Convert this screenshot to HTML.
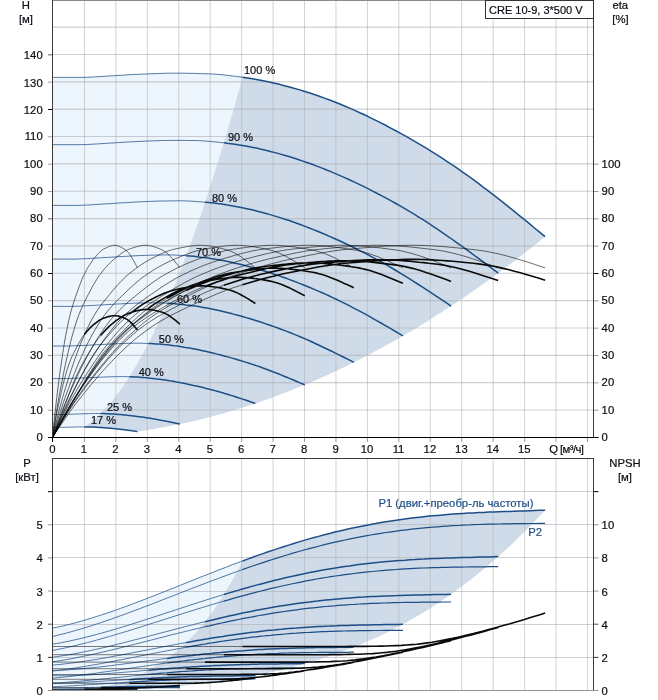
<!DOCTYPE html>
<html><head><meta charset="utf-8"><title>CRE 10-9</title>
<style>html,body{margin:0;padding:0;background:#fff}svg{display:block}</style></head>
<body>
<svg width="658" height="700" viewBox="0 0 658 700" font-family="Liberation Sans, Arial, sans-serif">
<rect width="658" height="700" fill="#fff"/>
<polygon fill="#edf5fd" points="52.5,77.4 55.7,77.4 58.9,77.4 62.1,77.4 65.3,77.4 68.5,77.4 71.7,77.4 74.9,77.4 78.1,77.4 81.3,77.4 84.5,77.4 87.7,77.3 90.9,77.1 94.1,77.0 97.3,76.8 100.5,76.6 103.7,76.4 106.9,76.1 110.1,75.9 113.3,75.7 116.5,75.5 119.7,75.4 122.9,75.2 126.1,75.0 129.3,74.8 132.5,74.6 135.7,74.4 138.9,74.2 142.1,74.1 145.3,74.0 148.5,73.8 151.7,73.7 154.9,73.6 158.1,73.5 161.3,73.4 164.5,73.4 167.7,73.3 170.9,73.2 174.0,73.2 177.2,73.2 180.4,73.2 183.6,73.2 186.8,73.3 190.0,73.3 193.2,73.4 196.4,73.5 199.6,73.6 202.8,73.6 206.0,73.8 209.2,73.9 212.4,74.0 215.6,74.2 218.8,74.4 222.0,74.7 225.2,75.1 228.4,75.4 231.6,75.8 234.8,76.2 238.0,76.6 241.2,77.1 242.5,77.2 240.7,83.7 238.9,90.2 237.1,96.6 235.4,103.0 233.6,109.2 231.8,115.5 230.0,121.6 228.3,127.8 226.5,133.8 224.7,139.8 222.9,145.7 221.1,151.6 219.4,157.4 217.6,163.1 215.8,168.8 214.0,174.4 212.3,180.0 210.5,185.5 208.7,191.0 206.9,196.4 205.1,201.8 203.4,207.1 201.6,212.4 199.8,217.6 198.0,222.8 196.3,227.9 194.5,233.0 192.7,238.0 190.9,242.9 189.1,247.8 187.4,252.6 185.6,257.4 183.8,262.1 182.0,266.7 180.3,271.3 178.5,275.8 176.7,280.2 174.9,284.6 173.1,288.9 171.4,293.2 169.6,297.4 167.8,301.6 166.0,305.7 164.3,309.7 162.5,313.7 160.7,317.7 158.9,321.5 157.1,325.4 155.4,329.1 153.6,332.8 151.8,336.4 150.0,340.0 148.3,343.5 146.5,346.9 144.7,350.3 142.9,353.6 141.2,356.8 139.4,360.0 137.6,363.1 135.8,366.1 134.0,369.1 132.3,372.1 130.5,374.9 128.7,377.7 126.9,380.5 125.2,383.1 123.4,385.7 121.6,388.3 119.8,390.8 118.0,393.2 116.3,395.6 114.5,397.9 112.7,400.1 110.9,402.3 109.2,404.4 107.4,406.4 105.6,408.4 103.8,410.3 102.0,412.1 100.3,413.9 98.5,415.6 96.7,417.2 94.9,418.8 93.2,420.3 91.4,421.8 89.6,423.1 87.8,424.5 86.0,425.7 84.3,426.9 84.3,426.9 82.6,426.9 80.9,426.9 79.2,426.9 77.6,427.0 75.9,427.0 74.2,427.1 72.6,427.1 70.9,427.2 69.2,427.2 67.5,427.2 65.9,427.3 64.2,427.3 62.5,427.4 60.9,427.4 59.2,427.4 57.5,427.4 55.8,427.4 54.2,427.4 52.5,427.4"/>
<polygon fill="#cfdbe8" points="241.2,77.1 245.1,77.6 248.9,78.2 252.8,78.8 256.6,79.5 260.5,80.3 264.3,81.0 268.1,81.8 272.0,82.7 275.8,83.5 279.7,84.4 283.5,85.4 287.4,86.4 291.2,87.4 295.1,88.5 298.9,89.7 302.8,90.8 306.6,92.0 310.5,93.2 314.3,94.5 318.1,95.8 322.0,97.2 325.8,98.6 329.7,100.0 333.5,101.5 337.4,103.0 341.2,104.6 345.1,106.2 348.9,107.8 352.8,109.5 356.6,111.2 360.4,113.0 364.3,114.8 368.1,116.6 372.0,118.4 375.8,120.3 379.7,122.2 383.5,124.2 387.4,126.2 391.2,128.3 395.1,130.3 398.9,132.4 402.8,134.5 406.6,136.7 410.4,138.9 414.3,141.1 418.1,143.3 422.0,145.6 425.8,148.0 429.7,150.3 433.5,152.7 437.4,155.1 441.2,157.6 445.1,160.1 448.9,162.6 452.8,165.2 456.6,167.8 460.4,170.5 464.3,173.2 468.1,175.9 472.0,178.7 475.8,181.5 479.7,184.4 483.5,187.3 487.4,190.2 491.2,193.2 495.1,196.1 498.9,199.1 502.8,202.2 506.6,205.2 510.4,208.3 514.3,211.4 518.1,214.5 522.0,217.7 525.8,220.8 529.7,223.9 533.5,227.1 537.4,230.3 541.2,233.5 545.1,236.7 545.1,236.7 540.6,240.3 536.1,243.9 531.7,247.5 527.2,251.0 522.8,254.5 518.3,257.9 513.8,261.4 509.4,264.7 504.9,268.1 500.5,271.4 496.0,274.7 491.5,278.0 487.1,281.2 482.6,284.4 478.2,287.5 473.7,290.7 469.3,293.7 464.8,296.8 460.3,299.8 455.8,302.9 451.4,305.8 446.8,308.8 442.3,311.7 437.8,314.6 433.2,317.5 428.7,320.4 424.1,323.2 419.6,326.0 415.0,328.7 410.4,331.5 405.9,334.1 401.3,336.8 396.8,339.4 392.2,342.0 387.6,344.5 383.1,347.1 378.5,349.5 374.0,352.0 369.4,354.4 364.8,356.8 360.2,359.1 355.6,361.4 351.0,363.7 346.4,366.0 341.8,368.2 337.2,370.4 332.6,372.6 327.9,374.7 323.3,376.8 318.7,378.9 314.0,380.9 309.4,382.9 304.7,384.8 300.1,386.8 295.5,388.6 290.8,390.5 286.2,392.3 281.6,394.1 276.9,395.8 272.3,397.5 267.6,399.2 263.0,400.8 258.4,402.4 253.7,404.0 249.0,405.5 244.4,407.0 239.7,408.5 235.0,409.9 230.4,411.3 225.7,412.7 221.0,414.0 216.4,415.3 211.7,416.5 207.0,417.7 202.3,418.9 197.7,420.1 193.0,421.2 188.3,422.2 183.7,423.3 179.1,424.2 174.4,425.2 169.8,426.1 165.1,427.0 160.5,427.8 155.9,428.7 151.3,429.4 146.7,430.2 142.0,430.9 137.4,431.5 137.4,431.5 134.6,431.1 131.8,430.7 129.0,430.4 126.2,430.0 123.4,429.6 120.6,429.3 117.8,429.0 115.0,428.7 112.2,428.4 109.4,428.2 106.6,427.9 103.8,427.7 101.1,427.5 98.3,427.3 95.5,427.2 92.7,427.1 89.9,427.0 87.1,426.9 84.3,426.9 84.3,426.9 86.0,425.7 87.8,424.5 89.6,423.1 91.4,421.8 93.2,420.3 94.9,418.8 96.7,417.2 98.5,415.6 100.3,413.9 102.0,412.1 103.8,410.3 105.6,408.4 107.4,406.4 109.2,404.4 110.9,402.3 112.7,400.1 114.5,397.9 116.3,395.6 118.0,393.2 119.8,390.8 121.6,388.3 123.4,385.7 125.2,383.1 126.9,380.5 128.7,377.7 130.5,374.9 132.3,372.1 134.0,369.1 135.8,366.1 137.6,363.1 139.4,360.0 141.2,356.8 142.9,353.6 144.7,350.3 146.5,346.9 148.3,343.5 150.0,340.0 151.8,336.4 153.6,332.8 155.4,329.1 157.1,325.4 158.9,321.5 160.7,317.7 162.5,313.7 164.3,309.7 166.0,305.7 167.8,301.6 169.6,297.4 171.4,293.2 173.1,288.9 174.9,284.6 176.7,280.2 178.5,275.8 180.3,271.3 182.0,266.7 183.8,262.1 185.6,257.4 187.4,252.6 189.1,247.8 190.9,242.9 192.7,238.0 194.5,233.0 196.3,227.9 198.0,222.8 199.8,217.6 201.6,212.4 203.4,207.1 205.1,201.8 206.9,196.4 208.7,191.0 210.5,185.5 212.3,180.0 214.0,174.4 215.8,168.8 217.6,163.1 219.4,157.4 221.1,151.6 222.9,145.7 224.7,139.8 226.5,133.8 228.3,127.8 230.0,121.6 231.8,115.5 233.6,109.2 235.4,103.0 237.1,96.6 238.9,90.2 240.7,83.7 242.5,77.2"/>
<polygon fill="#edf5fd" points="52.5,628.1 55.7,627.5 58.9,626.8 62.1,626.1 65.3,625.3 68.5,624.6 71.7,623.7 74.9,622.9 78.1,622.0 81.3,621.1 84.5,620.2 87.7,619.3 90.9,618.3 94.1,617.3 97.3,616.3 100.5,615.3 103.7,614.2 106.9,613.2 110.1,612.1 113.3,611.0 116.5,609.8 119.7,608.7 122.9,607.5 126.1,606.4 129.3,605.2 132.5,604.0 135.7,602.8 138.9,601.6 142.1,600.4 145.3,599.1 148.5,597.9 151.7,596.6 154.9,595.4 158.1,594.1 161.3,592.9 164.5,591.6 167.7,590.3 170.9,589.0 174.0,587.8 177.2,586.5 180.4,585.2 183.6,583.9 186.8,582.6 190.0,581.4 193.2,580.1 196.4,578.8 199.6,577.5 202.8,576.3 206.0,575.0 209.2,573.7 212.4,572.5 215.6,571.2 218.8,570.0 222.0,568.7 225.2,567.5 228.4,566.3 231.6,565.1 234.8,563.8 238.0,562.6 241.2,561.5 242.5,561.0 240.7,564.5 238.9,567.9 237.1,571.3 235.4,574.6 233.6,577.8 231.8,581.0 230.0,584.1 228.3,587.1 226.5,590.1 224.7,593.1 222.9,595.9 221.1,598.7 219.4,601.5 217.6,604.2 215.8,606.8 214.0,609.4 212.3,611.9 210.5,614.4 208.7,616.8 206.9,619.2 205.1,621.5 203.4,623.8 201.6,626.0 199.8,628.1 198.0,630.1 196.3,632.1 194.5,634.1 192.7,636.0 190.9,637.8 189.1,639.6 187.4,641.4 185.6,643.1 183.8,644.8 182.0,646.4 180.3,648.0 178.5,649.5 176.7,651.0 174.9,652.4 173.1,653.8 171.4,655.2 169.6,656.5 167.8,657.9 166.0,659.2 164.3,660.4 162.5,661.6 160.7,662.7 158.9,663.9 157.1,665.0 155.4,666.1 153.6,667.1 151.8,668.2 150.0,669.2 148.3,670.2 146.5,671.2 144.7,672.2 142.9,673.2 141.2,674.1 139.4,675.0 137.6,675.9 135.8,676.7 134.0,677.5 132.3,678.3 130.5,679.0 128.7,679.7 126.9,680.4 125.2,681.0 123.4,681.6 121.6,682.1 119.8,682.7 118.0,683.2 116.3,683.6 114.5,684.1 112.7,684.6 110.9,685.0 109.2,685.4 107.4,685.8 105.6,686.2 103.8,686.6 102.0,686.9 100.3,687.3 98.5,687.6 96.7,687.9 94.9,688.2 93.2,688.5 91.4,688.7 89.6,689.0 87.8,689.2 86.0,689.4 84.3,689.5 84.3,689.5 82.6,689.6 80.9,689.6 79.2,689.6 77.6,689.7 75.9,689.7 74.2,689.7 72.6,689.7 70.9,689.8 69.2,689.8 67.5,689.8 65.9,689.9 64.2,689.9 62.5,689.9 60.9,689.9 59.2,690.0 57.5,690.0 55.8,690.0 54.2,690.0 52.5,690.0"/>
<polygon fill="#cfdbe8" points="241.2,561.5 245.1,560.0 248.9,558.6 252.8,557.2 256.6,555.9 260.5,554.5 264.3,553.2 268.1,551.8 272.0,550.5 275.8,549.2 279.7,548.0 283.5,546.7 287.4,545.5 291.2,544.3 295.1,543.1 298.9,541.9 302.8,540.8 306.6,539.7 310.5,538.6 314.3,537.5 318.1,536.4 322.0,535.4 325.8,534.4 329.7,533.4 333.5,532.5 337.4,531.5 341.2,530.6 345.1,529.7 348.9,528.9 352.8,528.0 356.6,527.2 360.4,526.4 364.3,525.6 368.1,524.9 372.0,524.2 375.8,523.5 379.7,522.8 383.5,522.2 387.4,521.5 391.2,520.9 395.1,520.3 398.9,519.8 402.8,519.2 406.6,518.7 410.4,518.2 414.3,517.8 418.1,517.3 422.0,516.9 425.8,516.5 429.7,516.1 433.5,515.7 437.4,515.4 441.2,515.0 445.1,514.7 448.9,514.4 452.8,514.1 456.6,513.9 460.4,513.6 464.3,513.4 468.1,513.1 472.0,512.9 475.8,512.7 479.7,512.5 483.5,512.4 487.4,512.2 491.2,512.0 495.1,511.9 498.9,511.7 502.8,511.6 506.6,511.5 510.4,511.3 514.3,511.2 518.1,511.1 522.0,510.9 525.8,510.8 529.7,510.7 533.5,510.6 537.4,510.4 541.2,510.3 545.1,510.2 545.1,510.2 540.6,515.0 536.1,519.7 531.7,524.4 527.2,529.0 522.8,533.5 518.3,537.8 513.8,542.2 509.4,546.4 504.9,550.5 500.5,554.6 496.0,558.6 491.5,562.5 487.1,566.3 482.6,570.0 478.2,573.6 473.7,577.2 469.3,580.7 464.8,584.1 460.3,587.5 455.8,590.8 451.4,594.0 446.8,597.2 442.3,600.3 437.8,603.3 433.2,606.3 428.7,609.2 424.1,612.0 419.6,614.8 415.0,617.5 410.4,620.1 405.9,622.7 401.3,625.1 396.8,627.6 392.2,629.9 387.6,632.2 383.1,634.4 378.5,636.5 374.0,638.6 369.4,640.6 364.8,642.6 360.2,644.5 355.6,646.4 351.0,648.2 346.4,650.0 341.8,651.7 337.2,653.3 332.6,654.9 327.9,656.5 323.3,658.0 318.7,659.4 314.0,660.9 309.4,662.3 304.7,663.6 300.1,664.9 295.5,666.2 290.8,667.5 286.2,668.7 281.6,669.9 276.9,671.0 272.3,672.1 267.6,673.1 263.0,674.2 258.4,675.1 253.7,676.0 249.0,676.9 244.4,677.8 239.7,678.5 235.0,679.3 230.4,680.0 225.7,680.7 221.0,681.4 216.4,682.0 211.7,682.6 207.0,683.2 202.3,683.8 197.7,684.3 193.0,684.8 188.3,685.3 183.7,685.8 179.1,686.3 174.4,686.7 169.8,687.1 165.1,687.4 160.5,687.8 155.9,688.1 151.3,688.4 146.7,688.7 142.0,688.9 137.4,689.1 137.4,689.1 134.6,689.2 131.8,689.2 129.0,689.2 126.2,689.2 123.4,689.2 120.6,689.2 117.8,689.2 115.0,689.2 112.2,689.2 109.4,689.2 106.6,689.3 103.8,689.3 101.1,689.3 98.3,689.3 95.5,689.4 92.7,689.4 89.9,689.5 87.1,689.5 84.3,689.5 84.3,689.5 86.0,689.4 87.8,689.2 89.6,689.0 91.4,688.7 93.2,688.5 94.9,688.2 96.7,687.9 98.5,687.6 100.3,687.3 102.0,686.9 103.8,686.6 105.6,686.2 107.4,685.8 109.2,685.4 110.9,685.0 112.7,684.6 114.5,684.1 116.3,683.6 118.0,683.2 119.8,682.7 121.6,682.1 123.4,681.6 125.2,681.0 126.9,680.4 128.7,679.7 130.5,679.0 132.3,678.3 134.0,677.5 135.8,676.7 137.6,675.9 139.4,675.0 141.2,674.1 142.9,673.2 144.7,672.2 146.5,671.2 148.3,670.2 150.0,669.2 151.8,668.2 153.6,667.1 155.4,666.1 157.1,665.0 158.9,663.9 160.7,662.7 162.5,661.6 164.3,660.4 166.0,659.2 167.8,657.9 169.6,656.5 171.4,655.2 173.1,653.8 174.9,652.4 176.7,651.0 178.5,649.5 180.3,648.0 182.0,646.4 183.8,644.8 185.6,643.1 187.4,641.4 189.1,639.6 190.9,637.8 192.7,636.0 194.5,634.1 196.3,632.1 198.0,630.1 199.8,628.1 201.6,626.0 203.4,623.8 205.1,621.5 206.9,619.2 208.7,616.8 210.5,614.4 212.3,611.9 214.0,609.4 215.8,606.8 217.6,604.2 219.4,601.5 221.1,598.7 222.9,595.9 224.7,593.1 226.5,590.1 228.3,587.1 230.0,584.1 231.8,581.0 233.6,577.8 235.4,574.6 237.1,571.3 238.9,567.9 240.7,564.5 242.5,561.0"/>
<path d="M48,437.50H52.5" stroke="#000" fill="none"/>
<path d="M48,410.17H52.5" stroke="#a0a0a0" fill="none"/>
<path d="M48,382.83H52.5" stroke="#a0a0a0" fill="none"/>
<path d="M48,355.50H52.5" stroke="#a0a0a0" fill="none"/>
<path d="M48,328.17H52.5" stroke="#a0a0a0" fill="none"/>
<path d="M48,300.83H52.5" stroke="#a0a0a0" fill="none"/>
<path d="M48,273.50H52.5" stroke="#000" fill="none"/>
<path d="M48,246.17H52.5" stroke="#a0a0a0" fill="none"/>
<path d="M48,218.83H52.5" stroke="#666" fill="none"/>
<path d="M48,191.50H52.5" stroke="#a0a0a0" fill="none"/>
<path d="M48,164.17H52.5" stroke="#a0a0a0" fill="none"/>
<path d="M48,136.83H52.5" stroke="#a0a0a0" fill="none"/>
<path d="M48,109.50H52.5" stroke="#000" fill="none"/>
<path d="M48,82.17H52.5" stroke="#a0a0a0" fill="none"/>
<path d="M48,54.83H52.5" stroke="#666" fill="none"/>
<path d="M593.5,437.50H598.5" stroke="#000" fill="none"/>
<path d="M593.5,410.17H598.5" stroke="#9a9a9a" fill="none"/>
<path d="M593.5,382.83H598.5" stroke="#9a9a9a" fill="none"/>
<path d="M593.5,355.50H598.5" stroke="#9a9a9a" fill="none"/>
<path d="M593.5,328.17H598.5" stroke="#9a9a9a" fill="none"/>
<path d="M593.5,300.83H598.5" stroke="#9a9a9a" fill="none"/>
<path d="M593.5,273.50H598.5" stroke="#000" fill="none"/>
<path d="M593.5,246.17H598.5" stroke="#9a9a9a" fill="none"/>
<path d="M593.5,218.83H598.5" stroke="#9a9a9a" fill="none"/>
<path d="M593.5,191.50H598.5" stroke="#9a9a9a" fill="none"/>
<path d="M593.5,164.17H598.5" stroke="#9a9a9a" fill="none"/>
<path d="M52.50,437.5V442" stroke="#000" fill="none"/>
<path d="M84.44,438V442 M115.88,438V442 M147.32,438V442 M178.76,438V442 M210.20,438V442 M241.64,438V442 M273.08,438V442 M304.52,438V442 M335.96,438V442 M367.40,438V442 M398.84,438V442 M430.28,438V442 M461.72,438V442 M493.16,438V442 M524.60,438V442 M556.04,438V442 M587.48,438V442" stroke="#999" fill="none"/>
<path d="M48,690.50H52.5" stroke="#929292" fill="none"/>
<path d="M593.5,690.50H598.5" stroke="#929292" fill="none"/>
<path d="M48,657.36H52.5" stroke="#333" fill="none"/>
<path d="M593.5,657.36H598.5" stroke="#333" fill="none"/>
<path d="M48,624.21H52.5" stroke="#555" fill="none"/>
<path d="M593.5,624.21H598.5" stroke="#555" fill="none"/>
<path d="M48,591.07H52.5" stroke="#999" fill="none"/>
<path d="M593.5,591.07H598.5" stroke="#999" fill="none"/>
<path d="M48,557.93H52.5" stroke="#999" fill="none"/>
<path d="M593.5,557.93H598.5" stroke="#999" fill="none"/>
<path d="M48,524.79H52.5" stroke="#999" fill="none"/>
<path d="M593.5,524.79H598.5" stroke="#999" fill="none"/>
<path d="M48,491.64H52.5" stroke="#000" fill="none"/>
<path d="M593.5,491.64H598.5" stroke="#000" fill="none"/>
<path d="M84.44,1V437 M84.44,459V690 M115.88,1V437 M115.88,459V690 M147.32,1V437 M147.32,459V690 M178.76,1V437 M178.76,459V690 M210.2,1V437 M210.2,459V690 M241.64,1V437 M241.64,459V690 M273.08,1V437 M273.08,459V690 M304.52,1V437 M304.52,459V690 M335.96,1V437 M335.96,459V690 M367.4,1V437 M367.4,459V690 M398.84,1V437 M398.84,459V690 M430.28,1V437 M430.28,459V690 M461.72,1V437 M461.72,459V690 M493.16,1V437 M493.16,459V690 M524.6,1V437 M524.6,459V690 M556.04,1V437 M556.04,459V690 M587.48,1V437 M587.48,459V690" stroke="#b0b4b8" stroke-opacity="0.6" stroke-width="1" fill="none"/>
<path d="M53,410.0H593.0 M53,382.65H593.0 M53,355.3H593.0 M53,327.95H593.0 M53,300.6H593.0 M53,273.25H593.0 M53,245.9H593.0 M53,218.55H593.0 M53,191.2H593.0 M53,163.85H593.0 M53,136.5H593.0 M53,109.15H593.0 M53,81.8H593.0 M53,54.45H593.0 M53,27.1H593.0 M53,657.5H593.0 M53,624.5H593.0 M53,591.5H593.0 M53,557.5H593.0 M53,524.5H593.0 M53,491.5H593.0" stroke="#aeb2b6" stroke-opacity="0.62" stroke-width="1.15" fill="none"/>
<path d="M52.5,77.4 L57.4,77.4 L62.2,77.4 L67.1,77.4 L72.0,77.4 L76.9,77.4 L81.7,77.4 L86.6,77.3 L91.5,77.1 L96.3,76.8 L101.2,76.5 L106.1,76.2 L111.0,75.9 L115.8,75.6 L120.7,75.3 L125.6,75.0 L130.4,74.7 L135.3,74.4 L140.2,74.2 L145.1,74.0 L149.9,73.8 L154.8,73.6 L159.7,73.5 L164.5,73.3 L169.4,73.2 L174.3,73.2 L179.2,73.2 L184.0,73.2 L188.9,73.3 L193.8,73.4 L198.6,73.5 L203.5,73.7 L208.4,73.8 L213.3,74.0 L218.1,74.4 L223.0,74.8 L227.9,75.4 L232.7,76.0 L237.6,76.6 L242.5,77.2 M52.5,144.7 L56.9,144.7 L61.3,144.7 L65.7,144.7 L70.1,144.7 L74.5,144.7 L78.9,144.7 L83.2,144.6 L87.6,144.5 L92.0,144.2 L96.4,144.0 L100.8,143.7 L105.2,143.4 L109.6,143.1 L114.0,142.9 L118.4,142.6 L122.8,142.3 L127.2,142.0 L131.6,141.8 L136.0,141.6 L140.3,141.4 L144.7,141.2 L149.1,141.0 L153.5,140.8 L157.9,140.7 L162.3,140.5 L166.7,140.5 L171.1,140.4 L175.5,140.4 L179.9,140.4 L184.3,140.4 L188.7,140.5 L193.1,140.5 L197.4,140.6 L201.8,140.8 L206.2,141.1 L210.6,141.5 L215.0,141.9 L219.4,142.3 L223.8,142.8 M52.5,205.4 L56.4,205.4 L60.3,205.4 L64.2,205.4 L68.1,205.4 L72.1,205.4 L76.0,205.4 L79.9,205.3 L83.8,205.2 L87.7,205.0 L91.6,204.8 L95.5,204.5 L99.4,204.3 L103.3,204.0 L107.2,203.8 L111.2,203.6 L115.1,203.3 L119.0,203.0 L122.9,202.8 L126.8,202.6 L130.7,202.4 L134.6,202.1 L138.5,201.9 L142.4,201.7 L146.4,201.5 L150.3,201.4 L154.2,201.2 L158.1,201.1 L162.0,201.0 L165.9,201.0 L169.8,200.9 L173.7,200.9 L177.6,200.8 L181.6,200.8 L185.5,200.9 L189.4,201.1 L193.3,201.3 L197.2,201.6 L201.1,201.9 L205.0,202.2 M52.5,259.1 L55.9,259.1 L59.4,259.1 L62.8,259.1 L66.2,259.1 L69.6,259.1 L73.1,259.1 L76.5,259.1 L79.9,258.9 L83.4,258.8 L86.8,258.6 L90.2,258.4 L93.6,258.2 L97.1,258.0 L100.5,257.8 L103.9,257.6 L107.4,257.4 L110.8,257.2 L114.2,257.0 L117.6,256.7 L121.1,256.6 L124.5,256.4 L127.9,256.2 L131.4,256.0 L134.8,255.8 L138.2,255.6 L141.6,255.5 L145.1,255.4 L148.5,255.3 L151.9,255.2 L155.4,255.1 L158.8,255.0 L162.2,255.0 L165.6,254.9 L169.1,254.9 L172.5,255.0 L175.9,255.1 L179.4,255.3 L182.8,255.5 L186.2,255.7 M52.5,306.4 L55.4,306.4 L58.4,306.4 L61.3,306.4 L64.3,306.4 L67.2,306.4 L70.1,306.4 L73.1,306.4 L76.0,306.3 L78.9,306.2 L81.9,306.0 L84.8,305.9 L87.8,305.7 L90.7,305.6 L93.6,305.4 L96.6,305.2 L99.5,305.1 L102.5,304.9 L105.4,304.7 L108.3,304.5 L111.3,304.4 L114.2,304.2 L117.2,304.0 L120.1,303.9 L123.0,303.7 L126.0,303.6 L128.9,303.4 L131.8,303.3 L134.8,303.2 L137.7,303.1 L140.7,303.0 L143.6,302.9 L146.5,302.8 L149.5,302.8 L152.4,302.8 L155.4,302.8 L158.3,302.9 L161.2,303.0 L164.2,303.1 L167.1,303.2 M52.5,346.0 L55.0,346.0 L57.4,346.0 L59.9,346.0 L62.3,346.0 L64.8,346.0 L67.2,346.0 L69.7,345.9 L72.1,345.9 L74.6,345.8 L77.1,345.7 L79.5,345.6 L82.0,345.5 L84.4,345.4 L86.9,345.3 L89.3,345.1 L91.8,345.0 L94.2,344.9 L96.7,344.7 L99.2,344.6 L101.6,344.5 L104.1,344.4 L106.5,344.2 L109.0,344.1 L111.4,344.0 L113.9,343.9 L116.3,343.8 L118.8,343.7 L121.3,343.6 L123.7,343.5 L126.2,343.4 L128.6,343.3 L131.1,343.3 L133.5,343.2 L136.0,343.2 L138.4,343.2 L140.9,343.2 L143.4,343.3 L145.8,343.4 L148.3,343.5 M52.5,378.6 L54.5,378.6 L56.4,378.6 L58.4,378.6 L60.4,378.6 L62.4,378.6 L64.3,378.6 L66.3,378.5 L68.3,378.5 L70.2,378.5 L72.2,378.4 L74.2,378.3 L76.1,378.2 L78.1,378.2 L80.1,378.1 L82.1,378.0 L84.0,377.9 L86.0,377.8 L88.0,377.7 L89.9,377.6 L91.9,377.6 L93.9,377.5 L95.8,377.4 L97.8,377.3 L99.8,377.2 L101.8,377.1 L103.7,377.0 L105.7,377.0 L107.7,376.9 L109.6,376.8 L111.6,376.8 L113.6,376.7 L115.6,376.7 L117.5,376.6 L119.5,376.6 L121.5,376.6 L123.4,376.6 L125.4,376.6 L127.4,376.7 L129.3,376.7 M52.5,414.4 L53.7,414.4 L55.0,414.4 L56.2,414.4 L57.4,414.4 L58.7,414.4 L59.9,414.4 L61.1,414.4 L62.4,414.4 L63.6,414.4 L64.8,414.4 L66.1,414.3 L67.3,414.3 L68.5,414.3 L69.8,414.2 L71.0,414.2 L72.2,414.2 L73.5,414.1 L74.7,414.1 L75.9,414.0 L77.2,414.0 L78.4,414.0 L79.6,413.9 L80.9,413.9 L82.1,413.8 L83.3,413.8 L84.6,413.8 L85.8,413.7 L87.0,413.7 L88.3,413.7 L89.5,413.6 L90.7,413.6 L92.0,413.6 L93.2,413.6 L94.4,413.5 L95.7,413.5 L96.9,413.5 L98.1,413.5 L99.4,413.5 L100.6,413.6 M52.5,427.4 L53.3,427.4 L54.1,427.4 L54.9,427.4 L55.8,427.4 L56.6,427.4 L57.4,427.4 L58.2,427.4 L59.0,427.4 L59.8,427.4 L60.6,427.4 L61.5,427.4 L62.3,427.4 L63.1,427.3 L63.9,427.3 L64.7,427.3 L65.5,427.3 L66.3,427.3 L67.2,427.3 L68.0,427.2 L68.8,427.2 L69.6,427.2 L70.4,427.2 L71.2,427.1 L72.0,427.1 L72.9,427.1 L73.7,427.1 L74.5,427.0 L75.3,427.0 L76.1,427.0 L76.9,427.0 L77.7,427.0 L78.6,426.9 L79.4,426.9 L80.2,426.9 L81.0,426.9 L81.8,426.9 L82.6,426.9 L83.5,426.9 L84.3,426.9" stroke="#1d4f86" stroke-width="1" fill="none" opacity="0.75"/>
<path d="M242.5,77.2 L247.6,78.0 L252.7,78.8 L257.9,79.8 L263.0,80.8 L268.1,81.8 L273.3,82.9 L278.4,84.1 L283.5,85.4 L288.6,86.7 L293.8,88.2 L298.9,89.6 L304.0,91.2 L309.1,92.8 L314.3,94.5 L319.4,96.3 L324.5,98.1 L329.7,100.0 L334.8,102.0 L339.9,104.0 L345.0,106.2 L350.2,108.4 L355.3,110.6 L360.4,113.0 L365.6,115.3 L370.7,117.8 L375.8,120.3 L380.9,122.9 L386.1,125.5 L391.2,128.3 L396.3,131.0 L401.5,133.8 L406.6,136.7 L411.7,139.6 L416.8,142.6 L422.0,145.6 L427.1,148.7 L432.2,151.9 L437.4,155.1 L442.5,158.4 L447.6,161.8 L452.7,165.2 L457.9,168.7 L463.0,172.3 L468.1,175.9 L473.3,179.6 L478.4,183.4 L483.5,187.3 L488.6,191.2 L493.8,195.1 L498.9,199.1 L504.0,203.2 L509.2,207.3 L514.3,211.4 L519.4,215.6 L524.5,219.7 L529.7,223.9 L534.8,228.2 L539.9,232.4 L545.1,236.7 M223.8,142.8 L228.5,143.4 L233.1,144.0 L237.8,144.7 L242.4,145.5 L247.1,146.3 L251.7,147.2 L256.4,148.1 L261.0,149.2 L265.7,150.3 L270.3,151.4 L275.0,152.6 L279.6,153.9 L284.3,155.2 L288.9,156.5 L293.6,158.0 L298.2,159.5 L302.9,161.1 L307.5,162.7 L312.2,164.3 L316.8,166.1 L321.5,167.9 L326.1,169.7 L330.8,171.6 L335.4,173.6 L340.1,175.6 L344.7,177.6 L349.4,179.8 L354.0,181.9 L358.7,184.2 L363.3,186.4 L368.0,188.7 L372.6,191.1 L377.3,193.5 L381.9,195.9 L386.6,198.4 L391.2,200.9 L395.9,203.5 L400.5,206.2 L405.2,208.9 L409.8,211.6 L414.5,214.4 L419.1,217.3 L423.8,220.2 L428.4,223.2 L433.1,226.3 L437.7,229.4 L442.4,232.6 L447.0,235.8 L451.7,239.0 L456.3,242.3 L461.0,245.6 L465.6,248.9 L470.3,252.3 L474.9,255.8 L479.6,259.2 L484.2,262.6 L488.9,266.1 L493.5,269.6 L498.2,273.1 M205.0,202.2 L209.2,202.6 L213.4,203.0 L217.5,203.6 L221.7,204.1 L225.9,204.8 L230.0,205.5 L234.2,206.2 L238.4,206.9 L242.5,207.8 L246.7,208.7 L250.9,209.6 L255.0,210.6 L259.2,211.7 L263.4,212.8 L267.6,213.9 L271.7,215.1 L275.9,216.4 L280.1,217.6 L284.2,219.0 L288.4,220.3 L292.6,221.8 L296.7,223.3 L300.9,224.8 L305.1,226.4 L309.3,228.0 L313.4,229.6 L317.6,231.3 L321.8,233.0 L325.9,234.8 L330.1,236.6 L334.3,238.5 L338.4,240.3 L342.6,242.3 L346.8,244.2 L350.9,246.2 L355.1,248.2 L359.3,250.3 L363.5,252.4 L367.6,254.6 L371.8,256.8 L376.0,259.1 L380.1,261.4 L384.3,263.7 L388.5,266.1 L392.6,268.5 L396.8,271.0 L401.0,273.6 L405.2,276.1 L409.3,278.7 L413.5,281.3 L417.7,284.0 L421.8,286.7 L426.0,289.4 L430.2,292.2 L434.3,294.9 L438.5,297.7 L442.7,300.4 L446.8,303.2 L451.0,306.1 M186.2,255.7 L189.9,256.0 L193.6,256.3 L197.2,256.7 L200.9,257.2 L204.6,257.6 L208.2,258.1 L211.9,258.7 L215.6,259.3 L219.3,259.9 L222.9,260.6 L226.6,261.3 L230.3,262.1 L234.0,262.9 L237.6,263.7 L241.3,264.6 L245.0,265.5 L248.6,266.5 L252.3,267.5 L256.0,268.5 L259.7,269.6 L263.3,270.7 L267.0,271.8 L270.7,273.0 L274.4,274.2 L278.0,275.4 L281.7,276.7 L285.4,278.0 L289.0,279.4 L292.7,280.7 L296.4,282.1 L300.1,283.6 L303.7,285.0 L307.4,286.5 L311.1,288.0 L314.7,289.6 L318.4,291.1 L322.1,292.7 L325.8,294.4 L329.4,296.0 L333.1,297.8 L336.8,299.5 L340.5,301.3 L344.1,303.1 L347.8,304.9 L351.5,306.8 L355.1,308.8 L358.8,310.7 L362.5,312.7 L366.2,314.7 L369.8,316.7 L373.5,318.8 L377.2,320.9 L380.9,323.0 L384.5,325.1 L388.2,327.2 L391.9,329.4 L395.5,331.5 L399.2,333.7 L402.9,335.9 M167.1,303.2 L170.3,303.4 L173.4,303.6 L176.6,303.9 L179.8,304.2 L182.9,304.5 L186.1,304.9 L189.3,305.2 L192.4,305.7 L195.6,306.1 L198.8,306.6 L201.9,307.2 L205.1,307.7 L208.3,308.3 L211.4,308.9 L214.6,309.6 L217.7,310.3 L220.9,311.0 L224.1,311.7 L227.2,312.4 L230.4,313.2 L233.6,314.1 L236.7,314.9 L239.9,315.8 L243.1,316.7 L246.2,317.6 L249.4,318.5 L252.6,319.5 L255.7,320.5 L258.9,321.5 L262.1,322.5 L265.2,323.6 L268.4,324.7 L271.5,325.8 L274.7,326.9 L277.9,328.0 L281.0,329.2 L284.2,330.4 L287.4,331.6 L290.5,332.8 L293.7,334.1 L296.9,335.4 L300.0,336.7 L303.2,338.0 L306.4,339.4 L309.5,340.8 L312.7,342.3 L315.8,343.7 L319.0,345.2 L322.2,346.7 L325.3,348.2 L328.5,349.7 L331.7,351.2 L334.8,352.8 L338.0,354.4 L341.2,356.0 L344.3,357.5 L347.5,359.1 L350.7,360.7 L353.8,362.4 M148.3,343.5 L150.9,343.6 L153.6,343.7 L156.2,343.9 L158.9,344.1 L161.5,344.3 L164.2,344.6 L166.8,344.8 L169.5,345.1 L172.1,345.4 L174.8,345.8 L177.4,346.1 L180.1,346.5 L182.7,346.9 L185.4,347.4 L188.1,347.8 L190.7,348.3 L193.4,348.8 L196.0,349.3 L198.7,349.8 L201.3,350.4 L204.0,351.0 L206.6,351.6 L209.3,352.2 L211.9,352.8 L214.6,353.4 L217.2,354.1 L219.9,354.8 L222.5,355.5 L225.2,356.2 L227.8,356.9 L230.5,357.6 L233.1,358.4 L235.8,359.2 L238.4,360.0 L241.1,360.8 L243.8,361.6 L246.4,362.4 L249.1,363.3 L251.7,364.1 L254.4,365.0 L257.0,365.9 L259.7,366.8 L262.3,367.8 L265.0,368.7 L267.6,369.7 L270.3,370.7 L272.9,371.8 L275.6,372.8 L278.2,373.8 L280.9,374.9 L283.5,376.0 L286.2,377.0 L288.8,378.1 L291.5,379.2 L294.1,380.3 L296.8,381.5 L299.5,382.6 L302.1,383.7 L304.8,384.8 M129.3,376.7 L131.5,376.8 L133.6,376.9 L135.8,377.0 L137.9,377.1 L140.0,377.2 L142.2,377.4 L144.3,377.6 L146.4,377.7 L148.6,377.9 L150.7,378.2 L152.8,378.4 L155.0,378.7 L157.1,378.9 L159.3,379.2 L161.4,379.5 L163.5,379.8 L165.7,380.1 L167.8,380.4 L169.9,380.8 L172.1,381.1 L174.2,381.5 L176.3,381.9 L178.5,382.3 L180.6,382.7 L182.7,383.1 L184.9,383.5 L187.0,384.0 L189.2,384.4 L191.3,384.9 L193.4,385.4 L195.6,385.8 L197.7,386.3 L199.8,386.8 L202.0,387.3 L204.1,387.8 L206.2,388.4 L208.4,388.9 L210.5,389.5 L212.7,390.0 L214.8,390.6 L216.9,391.2 L219.1,391.8 L221.2,392.4 L223.3,393.0 L225.5,393.7 L227.6,394.3 L229.7,395.0 L231.9,395.6 L234.0,396.3 L236.2,397.0 L238.3,397.7 L240.4,398.4 L242.6,399.1 L244.7,399.8 L246.8,400.5 L249.0,401.2 L251.1,402.0 L253.2,402.7 L255.4,403.4 M100.6,413.6 L101.9,413.6 L103.3,413.6 L104.6,413.6 L106.0,413.7 L107.3,413.7 L108.6,413.8 L110.0,413.9 L111.3,413.9 L112.7,414.0 L114.0,414.1 L115.4,414.2 L116.7,414.3 L118.1,414.4 L119.4,414.5 L120.7,414.6 L122.1,414.7 L123.4,414.9 L124.8,415.0 L126.1,415.1 L127.5,415.3 L128.8,415.4 L130.2,415.6 L131.5,415.7 L132.8,415.9 L134.2,416.0 L135.5,416.2 L136.9,416.4 L138.2,416.6 L139.6,416.7 L140.9,416.9 L142.3,417.1 L143.6,417.3 L144.9,417.5 L146.3,417.7 L147.6,417.9 L149.0,418.1 L150.3,418.3 L151.7,418.6 L153.0,418.8 L154.3,419.0 L155.7,419.2 L157.0,419.5 L158.4,419.7 L159.7,420.0 L161.1,420.2 L162.4,420.5 L163.8,420.7 L165.1,421.0 L166.4,421.3 L167.8,421.5 L169.1,421.8 L170.5,422.1 L171.8,422.4 L173.2,422.6 L174.5,422.9 L175.9,423.2 L177.2,423.5 L178.5,423.8 L179.9,424.1 M84.3,426.9 L85.2,426.9 L86.1,426.9 L87.0,426.9 L87.9,426.9 L88.8,427.0 L89.7,427.0 L90.6,427.0 L91.5,427.0 L92.4,427.1 L93.3,427.1 L94.2,427.1 L95.1,427.2 L96.0,427.2 L96.9,427.3 L97.8,427.3 L98.7,427.4 L99.6,427.4 L100.5,427.5 L101.4,427.5 L102.3,427.6 L103.2,427.7 L104.1,427.7 L105.0,427.8 L105.9,427.9 L106.8,427.9 L107.7,428.0 L108.6,428.1 L109.5,428.2 L110.4,428.3 L111.3,428.3 L112.2,428.4 L113.1,428.5 L114.0,428.6 L114.9,428.7 L115.8,428.8 L116.7,428.9 L117.6,429.0 L118.5,429.1 L119.4,429.2 L120.3,429.3 L121.2,429.4 L122.1,429.5 L123.0,429.6 L123.9,429.7 L124.8,429.8 L125.7,429.9 L126.6,430.0 L127.5,430.2 L128.4,430.3 L129.3,430.4 L130.2,430.5 L131.1,430.6 L132.0,430.8 L132.9,430.9 L133.8,431.0 L134.7,431.1 L135.6,431.3 L136.5,431.4 L137.4,431.5" stroke="#1d4f86" stroke-width="1.5" fill="none"/>
<path d="M52.5,437.5 L56.0,431.4 L59.6,425.3 L63.1,419.4 L66.7,413.6 L70.2,408.0 L73.8,402.5 L77.3,397.3 L80.8,392.3 L84.4,387.5 L87.9,382.8 L91.5,378.1 L95.0,373.6 L98.6,369.1 L102.1,364.8 L105.7,360.6 L109.2,356.4 L112.7,352.4 L116.3,348.5 L119.8,344.8 L123.4,341.1 L126.9,337.7 L130.5,334.3 L134.0,331.1 L137.5,328.0 L141.1,325.0 L144.6,322.1 L148.2,319.4 L151.7,316.8 L155.3,314.3 L158.8,312.0 L162.4,309.8 L165.9,307.7 L169.4,305.6 L173.0,303.7 L176.5,301.8 L180.1,300.0 L183.6,298.2 L187.2,296.4 L190.7,294.6 L194.2,292.9 L197.8,291.1 L201.3,289.4 L204.9,287.7 L208.4,286.0 L212.0,284.4 L215.5,282.8 L219.0,281.3 L222.6,279.8 L226.1,278.3 L229.7,276.9 L233.2,275.6 L236.8,274.4 L240.3,273.2 L243.9,272.0 L247.4,270.8 L250.9,269.7 L254.5,268.6 L258.0,267.5 L261.6,266.5 L265.1,265.5 L268.7,264.5 L272.2,263.6 L275.7,262.7 L279.3,261.8 L282.8,260.9 L286.4,260.1 L289.9,259.3 L293.5,258.5 L297.0,257.8 L300.6,257.1 L304.1,256.3 L307.6,255.6 L311.2,254.9 L314.7,254.2 L318.3,253.5 L321.8,252.9 L325.4,252.3 L328.9,251.7 L332.4,251.1 L336.0,250.6 L339.5,250.2 L343.1,249.7 L346.6,249.4 L350.2,249.0 L353.7,248.7 L357.3,248.4 L360.8,248.1 L364.3,247.8 L367.9,247.5 L371.4,247.2 L375.0,246.9 L378.5,246.7 L382.1,246.4 L385.6,246.2 L389.1,246.0 L392.7,245.8 L396.2,245.7 L399.8,245.5 L403.3,245.4 L406.9,245.3 L410.4,245.3 L413.9,245.3 L417.5,245.3 L421.0,245.4 L424.6,245.5 L428.1,245.7 L431.7,245.8 L435.2,246.1 L438.8,246.3 L442.3,246.5 L445.8,246.8 L449.4,247.1 L452.9,247.5 L456.5,247.8 L460.0,248.2 L463.6,248.5 L467.1,248.9 L470.6,249.3 L474.2,249.7 L477.7,250.1 L481.3,250.6 L484.8,251.1 L488.4,251.8 L491.9,252.5 L495.5,253.2 L499.0,254.0 L502.5,254.9 L506.1,255.8 L509.6,256.7 L513.2,257.7 L516.7,258.8 L520.3,259.8 L523.8,260.9 L527.3,262.0 L530.9,263.2 L534.4,264.3 L538.0,265.5 L541.5,266.7 L545.1,267.8 M52.5,437.5 L55.7,432.6 L58.9,427.8 L62.2,423.0 L65.4,418.3 L68.6,413.7 L71.8,409.2 L75.0,404.8 L78.3,400.6 L81.5,396.5 L84.7,392.5 L87.9,388.5 L91.1,384.6 L94.4,380.8 L97.6,377.0 L100.8,373.3 L104.0,369.7 L107.2,366.2 L110.5,362.7 L113.7,359.3 L116.9,356.1 L120.1,352.9 L123.3,349.8 L126.6,346.8 L129.8,343.9 L133.0,341.1 L136.2,338.4 L139.4,335.8 L142.7,333.3 L145.9,330.9 L149.1,328.6 L152.3,326.3 L155.5,324.2 L158.8,322.2 L162.0,320.3 L165.2,318.5 L168.4,316.7 L171.6,315.0 L174.9,313.4 L178.1,311.8 L181.3,310.2 L184.5,308.7 L187.7,307.1 L191.0,305.6 L194.2,304.1 L197.4,302.6 L200.6,301.1 L203.8,299.6 L207.1,298.2 L210.3,296.8 L213.5,295.4 L216.7,294.1 L219.9,292.7 L223.2,291.5 L226.4,290.2 L229.6,289.1 L232.8,287.9 L236.0,286.8 L239.3,285.8 L242.5,284.8 M52.5,437.5 L55.7,431.4 L58.9,425.3 L62.1,419.4 L65.3,413.6 L68.5,408.0 L71.7,402.5 L74.9,397.3 L78.2,392.3 L81.4,387.5 L84.6,382.8 L87.8,378.1 L91.0,373.6 L94.2,369.1 L97.4,364.8 L100.6,360.6 L103.8,356.4 L107.0,352.4 L110.2,348.5 L113.4,344.8 L116.6,341.1 L119.8,337.7 L123.0,334.3 L126.2,331.1 L129.5,328.0 L132.7,325.0 L135.9,322.1 L139.1,319.4 L142.3,316.8 L145.5,314.3 L148.7,312.0 L151.9,309.8 L155.1,307.7 L158.3,305.6 L161.5,303.7 L164.7,301.8 L167.9,300.0 L171.1,298.2 L174.3,296.4 L177.6,294.6 L180.8,292.9 L184.0,291.1 L187.2,289.4 L190.4,287.7 L193.6,286.0 L196.8,284.4 L200.0,282.8 L203.2,281.3 L206.4,279.8 L209.6,278.3 L212.8,276.9 L216.0,275.6 L219.2,274.4 L222.4,273.2 L225.6,272.0 L228.9,270.8 L232.1,269.7 L235.3,268.6 L238.5,267.5 L241.7,266.5 L244.9,265.5 L248.1,264.5 L251.3,263.6 L254.5,262.7 L257.7,261.8 L260.9,260.9 L264.1,260.1 L267.3,259.3 L270.5,258.5 L273.7,257.8 L277.0,257.1 L280.2,256.3 L283.4,255.6 L286.6,254.9 L289.8,254.2 L293.0,253.5 L296.2,252.9 L299.4,252.3 L302.6,251.7 L305.8,251.1 L309.0,250.6 L312.2,250.2 L315.4,249.7 L318.6,249.4 L321.8,249.0 L325.0,248.7 L328.3,248.4 L331.5,248.1 L334.7,247.8 L337.9,247.5 L341.1,247.2 L344.3,246.9 L347.5,246.7 L350.7,246.4 L353.9,246.2 L357.1,246.0 L360.3,245.8 L363.5,245.7 L366.7,245.5 L369.9,245.4 L373.1,245.3 L376.4,245.3 L379.6,245.3 L382.8,245.3 L386.0,245.4 L389.2,245.5 L392.4,245.7 L395.6,245.8 L398.8,246.1 L402.0,246.3 L405.2,246.5 L408.4,246.8 L411.6,247.1 L414.8,247.5 L418.0,247.8 L421.2,248.2 L424.4,248.5 L427.7,248.9 L430.9,249.3 L434.1,249.7 L437.3,250.1 L440.5,250.6 L443.7,251.1 L446.9,251.8 L450.1,252.5 L453.3,253.2 L456.5,254.0 L459.7,254.9 L462.9,255.8 L466.1,256.7 L469.3,257.7 L472.5,258.8 L475.8,259.8 L479.0,260.9 L482.2,262.0 L485.4,263.2 L488.6,264.3 L491.8,265.5 L495.0,266.7 L498.2,267.8 M52.5,437.5 L55.4,432.7 L58.3,427.9 L61.2,423.1 L64.1,418.4 L67.0,413.8 L69.9,409.3 L72.8,405.0 L75.7,400.8 L78.6,396.7 L81.5,392.7 L84.4,388.8 L87.3,384.9 L90.2,381.1 L93.1,377.4 L96.1,373.7 L99.0,370.1 L101.9,366.5 L104.8,363.1 L107.7,359.7 L110.6,356.5 L113.5,353.3 L116.4,350.2 L119.3,347.2 L122.2,344.3 L125.1,341.6 L128.0,338.9 L130.9,336.3 L133.8,333.8 L136.7,331.3 L139.6,329.0 L142.5,326.8 L145.4,324.7 L148.3,322.7 L151.2,320.8 L154.1,319.0 L157.0,317.2 L159.9,315.5 L162.8,313.9 L165.7,312.3 L168.6,310.7 L171.5,309.1 L174.4,307.6 L177.3,306.1 L180.3,304.6 L183.2,303.1 L186.1,301.6 L189.0,300.2 L191.9,298.7 L194.8,297.3 L197.7,295.9 L200.6,294.6 L203.5,293.3 L206.4,292.0 L209.3,290.8 L212.2,289.6 L215.1,288.5 L218.0,287.4 L220.9,286.3 L223.8,285.3 M52.5,437.5 L55.4,431.4 L58.2,425.3 L61.1,419.4 L64.0,413.6 L66.8,408.0 L69.7,402.5 L72.6,397.3 L75.4,392.3 L78.3,387.5 L81.2,382.8 L84.0,378.1 L86.9,373.6 L89.8,369.1 L92.6,364.8 L95.5,360.6 L98.4,356.4 L101.2,352.4 L104.1,348.5 L107.0,344.8 L109.8,341.1 L112.7,337.7 L115.6,334.3 L118.4,331.1 L121.3,328.0 L124.2,325.0 L127.0,322.1 L129.9,319.4 L132.8,316.8 L135.6,314.3 L138.5,312.0 L141.4,309.8 L144.2,307.7 L147.1,305.6 L150.0,303.7 L152.8,301.8 L155.7,300.0 L158.6,298.2 L161.4,296.4 L164.3,294.6 L167.2,292.9 L170.0,291.1 L172.9,289.4 L175.8,287.7 L178.6,286.0 L181.5,284.4 L184.4,282.8 L187.2,281.3 L190.1,279.8 L193.0,278.3 L195.9,276.9 L198.7,275.6 L201.6,274.4 L204.5,273.2 L207.3,272.0 L210.2,270.8 L213.1,269.7 L215.9,268.6 L218.8,267.5 L221.7,266.5 L224.5,265.5 L227.4,264.5 L230.3,263.6 L233.1,262.7 L236.0,261.8 L238.9,260.9 L241.7,260.1 L244.6,259.3 L247.5,258.5 L250.3,257.8 L253.2,257.1 L256.1,256.3 L258.9,255.6 L261.8,254.9 L264.7,254.2 L267.5,253.5 L270.4,252.9 L273.3,252.3 L276.1,251.7 L279.0,251.1 L281.9,250.6 L284.7,250.2 L287.6,249.7 L290.5,249.4 L293.3,249.0 L296.2,248.7 L299.1,248.4 L301.9,248.1 L304.8,247.8 L307.7,247.5 L310.5,247.2 L313.4,246.9 L316.3,246.7 L319.1,246.4 L322.0,246.2 L324.9,246.0 L327.7,245.8 L330.6,245.7 L333.5,245.5 L336.3,245.4 L339.2,245.3 L342.1,245.3 L344.9,245.3 L347.8,245.3 L350.7,245.4 L353.5,245.5 L356.4,245.7 L359.3,245.8 L362.1,246.1 L365.0,246.3 L367.9,246.5 L370.7,246.8 L373.6,247.1 L376.5,247.5 L379.3,247.8 L382.2,248.2 L385.1,248.5 L387.9,248.9 L390.8,249.3 L393.7,249.7 L396.5,250.1 L399.4,250.6 L402.3,251.1 L405.1,251.8 L408.0,252.5 L410.9,253.2 L413.7,254.0 L416.6,254.9 L419.5,255.8 L422.3,256.7 L425.2,257.7 L428.1,258.8 L430.9,259.8 L433.8,260.9 L436.7,262.0 L439.5,263.2 L442.4,264.3 L445.3,265.5 L448.1,266.7 L451.0,267.8 M52.5,437.5 L55.1,432.7 L57.7,428.0 L60.3,423.3 L62.8,418.6 L65.4,414.1 L68.0,409.6 L70.6,405.3 L73.2,401.1 L75.8,397.1 L78.4,393.1 L80.9,389.2 L83.5,385.4 L86.1,381.6 L88.7,377.9 L91.3,374.3 L93.9,370.7 L96.4,367.2 L99.0,363.8 L101.6,360.4 L104.2,357.2 L106.8,354.0 L109.4,351.0 L112.0,348.0 L114.5,345.1 L117.1,342.4 L119.7,339.7 L122.3,337.1 L124.9,334.6 L127.5,332.2 L130.1,329.9 L132.6,327.7 L135.2,325.6 L137.8,323.6 L140.4,321.7 L143.0,319.9 L145.6,318.1 L148.1,316.4 L150.7,314.8 L153.3,313.2 L155.9,311.6 L158.5,310.1 L161.1,308.6 L163.7,307.1 L166.2,305.6 L168.8,304.1 L171.4,302.6 L174.0,301.2 L176.6,299.8 L179.2,298.4 L181.8,297.0 L184.3,295.7 L186.9,294.4 L189.5,293.1 L192.1,291.9 L194.7,290.7 L197.3,289.5 L199.8,288.4 L202.4,287.4 L205.0,286.4 M52.5,437.5 L55.0,431.4 L57.5,425.3 L60.1,419.4 L62.6,413.6 L65.1,408.0 L67.6,402.5 L70.1,397.3 L72.7,392.3 L75.2,387.5 L77.7,382.8 L80.2,378.1 L82.7,373.6 L85.3,369.1 L87.8,364.8 L90.3,360.6 L92.8,356.4 L95.4,352.4 L97.9,348.5 L100.4,344.8 L102.9,341.1 L105.4,337.7 L108.0,334.3 L110.5,331.1 L113.0,328.0 L115.5,325.0 L118.0,322.1 L120.6,319.4 L123.1,316.8 L125.6,314.3 L128.1,312.0 L130.6,309.8 L133.2,307.7 L135.7,305.6 L138.2,303.7 L140.7,301.8 L143.2,300.0 L145.8,298.2 L148.3,296.4 L150.8,294.6 L153.3,292.9 L155.9,291.1 L158.4,289.4 L160.9,287.7 L163.4,286.0 L165.9,284.4 L168.5,282.8 L171.0,281.3 L173.5,279.8 L176.0,278.3 L178.5,276.9 L181.1,275.6 L183.6,274.4 L186.1,273.2 L188.6,272.0 L191.1,270.8 L193.7,269.7 L196.2,268.6 L198.7,267.5 L201.2,266.5 L203.7,265.5 L206.3,264.5 L208.8,263.6 L211.3,262.7 L213.8,261.8 L216.4,260.9 L218.9,260.1 L221.4,259.3 L223.9,258.5 L226.4,257.8 L229.0,257.1 L231.5,256.3 L234.0,255.6 L236.5,254.9 L239.0,254.2 L241.6,253.5 L244.1,252.9 L246.6,252.3 L249.1,251.7 L251.6,251.1 L254.2,250.6 L256.7,250.2 L259.2,249.7 L261.7,249.4 L264.2,249.0 L266.8,248.7 L269.3,248.4 L271.8,248.1 L274.3,247.8 L276.9,247.5 L279.4,247.2 L281.9,246.9 L284.4,246.7 L286.9,246.4 L289.5,246.2 L292.0,246.0 L294.5,245.8 L297.0,245.7 L299.5,245.5 L302.1,245.4 L304.6,245.3 L307.1,245.3 L309.6,245.3 L312.1,245.3 L314.7,245.4 L317.2,245.5 L319.7,245.7 L322.2,245.8 L324.7,246.1 L327.3,246.3 L329.8,246.5 L332.3,246.8 L334.8,247.1 L337.4,247.5 L339.9,247.8 L342.4,248.2 L344.9,248.5 L347.4,248.9 L350.0,249.3 L352.5,249.7 L355.0,250.1 L357.5,250.6 L360.0,251.1 L362.6,251.8 L365.1,252.5 L367.6,253.2 L370.1,254.0 L372.6,254.9 L375.2,255.8 L377.7,256.7 L380.2,257.7 L382.7,258.8 L385.2,259.8 L387.8,260.9 L390.3,262.0 L392.8,263.2 L395.3,264.3 L397.9,265.5 L400.4,266.7 L402.9,267.8 M52.5,437.5 L54.8,433.2 L57.0,429.0 L59.3,424.8 L61.6,420.6 L63.8,416.4 L66.1,412.4 L68.4,408.4 L70.6,404.5 L72.9,400.8 L75.2,397.1 L77.4,393.5 L79.7,389.8 L82.0,386.3 L84.2,382.8 L86.5,379.3 L88.8,375.9 L91.0,372.5 L93.3,369.2 L95.6,366.0 L97.8,362.8 L100.1,359.8 L102.4,356.8 L104.6,353.9 L106.9,351.0 L109.2,348.3 L111.4,345.6 L113.7,343.1 L116.0,340.6 L118.2,338.2 L120.5,335.8 L122.8,333.6 L125.0,331.5 L127.3,329.4 L129.6,327.5 L131.8,325.6 L134.1,323.8 L136.4,322.0 L138.6,320.3 L140.9,318.7 L143.1,317.1 L145.4,315.5 L147.7,313.9 L149.9,312.3 L152.2,310.7 L154.5,309.2 L156.7,307.7 L159.0,306.2 L161.3,304.7 L163.5,303.2 L165.8,301.8 L168.1,300.4 L170.3,299.0 L172.6,297.6 L174.9,296.3 L177.1,295.1 L179.4,293.9 L181.7,292.7 L183.9,291.6 L186.2,290.5 M52.5,437.5 L54.7,431.4 L56.8,425.3 L59.0,419.4 L61.2,413.6 L63.3,408.0 L65.5,402.5 L67.7,397.3 L69.8,392.3 L72.0,387.5 L74.2,382.8 L76.3,378.1 L78.5,373.6 L80.7,369.1 L82.8,364.8 L85.0,360.6 L87.2,356.4 L89.4,352.4 L91.5,348.5 L93.7,344.8 L95.9,341.1 L98.0,337.7 L100.2,334.3 L102.4,331.1 L104.5,328.0 L106.7,325.0 L108.9,322.1 L111.0,319.4 L113.2,316.8 L115.4,314.3 L117.5,312.0 L119.7,309.8 L121.9,307.7 L124.0,305.6 L126.2,303.7 L128.4,301.8 L130.5,300.0 L132.7,298.2 L134.9,296.4 L137.0,294.6 L139.2,292.9 L141.4,291.1 L143.5,289.4 L145.7,287.7 L147.9,286.0 L150.1,284.4 L152.2,282.8 L154.4,281.3 L156.6,279.8 L158.7,278.3 L160.9,276.9 L163.1,275.6 L165.2,274.4 L167.4,273.2 L169.6,272.0 L171.7,270.8 L173.9,269.7 L176.1,268.6 L178.2,267.5 L180.4,266.5 L182.6,265.5 L184.7,264.5 L186.9,263.6 L189.1,262.7 L191.2,261.8 L193.4,260.9 L195.6,260.1 L197.7,259.3 L199.9,258.5 L202.1,257.8 L204.2,257.1 L206.4,256.3 L208.6,255.6 L210.7,254.9 L212.9,254.2 L215.1,253.5 L217.3,252.9 L219.4,252.3 L221.6,251.7 L223.8,251.1 L225.9,250.6 L228.1,250.2 L230.3,249.7 L232.4,249.4 L234.6,249.0 L236.8,248.7 L238.9,248.4 L241.1,248.1 L243.3,247.8 L245.4,247.5 L247.6,247.2 L249.8,246.9 L251.9,246.7 L254.1,246.4 L256.3,246.2 L258.4,246.0 L260.6,245.8 L262.8,245.7 L264.9,245.5 L267.1,245.4 L269.3,245.3 L271.4,245.3 L273.6,245.3 L275.8,245.3 L278.0,245.4 L280.1,245.5 L282.3,245.7 L284.5,245.8 L286.6,246.1 L288.8,246.3 L291.0,246.5 L293.1,246.8 L295.3,247.1 L297.5,247.5 L299.6,247.8 L301.8,248.2 L304.0,248.5 L306.1,248.9 L308.3,249.3 L310.5,249.7 L312.6,250.1 L314.8,250.6 L317.0,251.1 L319.1,251.8 L321.3,252.5 L323.5,253.2 L325.6,254.0 L327.8,254.9 L330.0,255.8 L332.1,256.7 L334.3,257.7 L336.5,258.8 L338.6,259.8 L340.8,260.9 L343.0,262.0 L345.2,263.2 L347.3,264.3 L349.5,265.5 L351.7,266.7 L353.8,267.8 M52.5,437.5 L54.4,434.1 L56.4,430.6 L58.3,427.1 L60.3,423.6 L62.2,420.1 L64.2,416.6 L66.1,413.2 L68.0,409.9 L70.0,406.6 L71.9,403.3 L73.9,400.1 L75.8,396.9 L77.8,393.7 L79.7,390.5 L81.6,387.3 L83.6,384.2 L85.5,381.0 L87.5,378.0 L89.4,375.0 L91.4,372.0 L93.3,369.1 L95.2,366.2 L97.2,363.4 L99.1,360.7 L101.1,358.0 L103.0,355.4 L105.0,352.9 L106.9,350.4 L108.8,348.0 L110.8,345.7 L112.7,343.5 L114.7,341.3 L116.6,339.2 L118.5,337.2 L120.5,335.3 L122.4,333.4 L124.4,331.6 L126.3,329.8 L128.3,328.1 L130.2,326.4 L132.1,324.7 L134.1,323.1 L136.0,321.4 L138.0,319.8 L139.9,318.2 L141.9,316.6 L143.8,315.0 L145.7,313.4 L147.7,311.9 L149.6,310.3 L151.6,308.8 L153.5,307.4 L155.5,306.0 L157.4,304.6 L159.3,303.2 L161.3,302.0 L163.2,300.7 L165.2,299.5 L167.1,298.3 M52.5,437.5 L54.3,431.4 L56.1,425.3 L57.9,419.4 L59.8,413.6 L61.6,408.0 L63.4,402.5 L65.2,397.3 L67.0,392.3 L68.8,387.5 L70.6,382.8 L72.5,378.1 L74.3,373.6 L76.1,369.1 L77.9,364.8 L79.7,360.6 L81.5,356.4 L83.4,352.4 L85.2,348.5 L87.0,344.8 L88.8,341.1 L90.6,337.7 L92.4,334.3 L94.2,331.1 L96.1,328.0 L97.9,325.0 L99.7,322.1 L101.5,319.4 L103.3,316.8 L105.1,314.3 L106.9,312.0 L108.8,309.8 L110.6,307.7 L112.4,305.6 L114.2,303.7 L116.0,301.8 L117.8,300.0 L119.6,298.2 L121.5,296.4 L123.3,294.6 L125.1,292.9 L126.9,291.1 L128.7,289.4 L130.5,287.7 L132.4,286.0 L134.2,284.4 L136.0,282.8 L137.8,281.3 L139.6,279.8 L141.4,278.3 L143.2,276.9 L145.1,275.6 L146.9,274.4 L148.7,273.2 L150.5,272.0 L152.3,270.8 L154.1,269.7 L155.9,268.6 L157.8,267.5 L159.6,266.5 L161.4,265.5 L163.2,264.5 L165.0,263.6 L166.8,262.7 L168.6,261.8 L170.5,260.9 L172.3,260.1 L174.1,259.3 L175.9,258.5 L177.7,257.8 L179.5,257.1 L181.4,256.3 L183.2,255.6 L185.0,254.9 L186.8,254.2 L188.6,253.5 L190.4,252.9 L192.2,252.3 L194.1,251.7 L195.9,251.1 L197.7,250.6 L199.5,250.2 L201.3,249.7 L203.1,249.4 L204.9,249.0 L206.8,248.7 L208.6,248.4 L210.4,248.1 L212.2,247.8 L214.0,247.5 L215.8,247.2 L217.6,246.9 L219.5,246.7 L221.3,246.4 L223.1,246.2 L224.9,246.0 L226.7,245.8 L228.5,245.7 L230.4,245.5 L232.2,245.4 L234.0,245.3 L235.8,245.3 L237.6,245.3 L239.4,245.3 L241.2,245.4 L243.1,245.5 L244.9,245.7 L246.7,245.8 L248.5,246.1 L250.3,246.3 L252.1,246.5 L253.9,246.8 L255.8,247.1 L257.6,247.5 L259.4,247.8 L261.2,248.2 L263.0,248.5 L264.8,248.9 L266.6,249.3 L268.5,249.7 L270.3,250.1 L272.1,250.6 L273.9,251.1 L275.7,251.8 L277.5,252.5 L279.3,253.2 L281.2,254.0 L283.0,254.9 L284.8,255.8 L286.6,256.7 L288.4,257.7 L290.2,258.8 L292.1,259.8 L293.9,260.9 L295.7,262.0 L297.5,263.2 L299.3,264.3 L301.1,265.5 L302.9,266.7 L304.8,267.8 M52.5,437.5 L54.1,434.8 L55.7,432.0 L57.4,429.2 L59.0,426.3 L60.6,423.4 L62.2,420.5 L63.9,417.6 L65.5,414.7 L67.1,411.9 L68.7,409.1 L70.4,406.3 L72.0,403.4 L73.6,400.5 L75.2,397.7 L76.8,394.8 L78.5,392.0 L80.1,389.2 L81.7,386.4 L83.3,383.6 L85.0,380.8 L86.6,378.1 L88.2,375.4 L89.8,372.8 L91.5,370.3 L93.1,367.7 L94.7,365.3 L96.3,362.8 L97.9,360.5 L99.6,358.2 L101.2,355.9 L102.8,353.7 L104.4,351.6 L106.1,349.6 L107.7,347.6 L109.3,345.7 L110.9,343.8 L112.6,342.0 L114.2,340.2 L115.8,338.5 L117.4,336.8 L119.1,335.1 L120.7,333.5 L122.3,331.8 L123.9,330.2 L125.5,328.5 L127.2,326.9 L128.8,325.3 L130.4,323.7 L132.0,322.2 L133.7,320.6 L135.3,319.1 L136.9,317.7 L138.5,316.2 L140.2,314.8 L141.8,313.4 L143.4,312.1 L145.0,310.8 L146.6,309.6 L148.3,308.4 M52.5,437.5 L54.0,431.4 L55.4,425.3 L56.9,419.4 L58.3,413.6 L59.8,408.0 L61.3,402.5 L62.7,397.3 L64.2,392.3 L65.6,387.5 L67.1,382.8 L68.6,378.1 L70.0,373.6 L71.5,369.1 L72.9,364.8 L74.4,360.6 L75.9,356.4 L77.3,352.4 L78.8,348.5 L80.2,344.8 L81.7,341.1 L83.2,337.7 L84.6,334.3 L86.1,331.1 L87.5,328.0 L89.0,325.0 L90.4,322.1 L91.9,319.4 L93.4,316.8 L94.8,314.3 L96.3,312.0 L97.7,309.8 L99.2,307.7 L100.7,305.6 L102.1,303.7 L103.6,301.8 L105.0,300.0 L106.5,298.2 L108.0,296.4 L109.4,294.6 L110.9,292.9 L112.3,291.1 L113.8,289.4 L115.3,287.7 L116.7,286.0 L118.2,284.4 L119.6,282.8 L121.1,281.3 L122.6,279.8 L124.0,278.3 L125.5,276.9 L126.9,275.6 L128.4,274.4 L129.9,273.2 L131.3,272.0 L132.8,270.8 L134.2,269.7 L135.7,268.6 L137.2,267.5 L138.6,266.5 L140.1,265.5 L141.5,264.5 L143.0,263.6 L144.5,262.7 L145.9,261.8 L147.4,260.9 L148.8,260.1 L150.3,259.3 L151.7,258.5 L153.2,257.8 L154.7,257.1 L156.1,256.3 L157.6,255.6 L159.0,254.9 L160.5,254.2 L162.0,253.5 L163.4,252.9 L164.9,252.3 L166.3,251.7 L167.8,251.1 L169.3,250.6 L170.7,250.2 L172.2,249.7 L173.6,249.4 L175.1,249.0 L176.6,248.7 L178.0,248.4 L179.5,248.1 L180.9,247.8 L182.4,247.5 L183.9,247.2 L185.3,246.9 L186.8,246.7 L188.2,246.4 L189.7,246.2 L191.2,246.0 L192.6,245.8 L194.1,245.7 L195.5,245.5 L197.0,245.4 L198.5,245.3 L199.9,245.3 L201.4,245.3 L202.8,245.3 L204.3,245.4 L205.8,245.5 L207.2,245.7 L208.7,245.8 L210.1,246.1 L211.6,246.3 L213.0,246.5 L214.5,246.8 L216.0,247.1 L217.4,247.5 L218.9,247.8 L220.3,248.2 L221.8,248.5 L223.3,248.9 L224.7,249.3 L226.2,249.7 L227.6,250.1 L229.1,250.6 L230.6,251.1 L232.0,251.8 L233.5,252.5 L234.9,253.2 L236.4,254.0 L237.9,254.9 L239.3,255.8 L240.8,256.7 L242.2,257.7 L243.7,258.8 L245.2,259.8 L246.6,260.9 L248.1,262.0 L249.5,263.2 L251.0,264.3 L252.5,265.5 L253.9,266.7 L255.4,267.8 M52.5,437.5 L53.8,434.6 L55.1,431.7 L56.4,428.8 L57.7,425.9 L59.0,422.9 L60.3,420.0 L61.6,417.1 L62.9,414.2 L64.2,411.4 L65.5,408.6 L66.8,405.8 L68.1,403.0 L69.4,400.2 L70.7,397.4 L72.0,394.6 L73.3,391.9 L74.6,389.1 L75.9,386.4 L77.2,383.8 L78.5,381.1 L79.9,378.5 L81.2,376.0 L82.5,373.5 L83.8,371.1 L85.1,368.7 L86.4,366.4 L87.7,364.1 L89.0,361.9 L90.3,359.7 L91.6,357.6 L92.9,355.6 L94.2,353.6 L95.5,351.7 L96.8,349.9 L98.1,348.1 L99.4,346.4 L100.7,344.7 L102.0,343.1 L103.3,341.5 L104.6,340.0 L105.9,338.4 L107.2,336.9 L108.5,335.4 L109.8,333.9 L111.1,332.4 L112.4,330.9 L113.7,329.5 L115.0,328.0 L116.3,326.6 L117.6,325.2 L118.9,323.9 L120.2,322.5 L121.5,321.2 L122.8,319.9 L124.1,318.7 L125.4,317.5 L126.7,316.3 L128.0,315.2 L129.3,314.1 M52.5,437.5 L53.4,431.4 L54.3,425.3 L55.2,419.4 L56.2,413.6 L57.1,408.0 L58.0,402.5 L58.9,397.3 L59.8,392.3 L60.7,387.5 L61.7,382.8 L62.6,378.1 L63.5,373.6 L64.4,369.1 L65.3,364.8 L66.2,360.6 L67.2,356.4 L68.1,352.4 L69.0,348.5 L69.9,344.8 L70.8,341.1 L71.7,337.7 L72.7,334.3 L73.6,331.1 L74.5,328.0 L75.4,325.0 L76.3,322.1 L77.2,319.4 L78.2,316.8 L79.1,314.3 L80.0,312.0 L80.9,309.8 L81.8,307.7 L82.7,305.6 L83.7,303.7 L84.6,301.8 L85.5,300.0 L86.4,298.2 L87.3,296.4 L88.2,294.6 L89.2,292.9 L90.1,291.1 L91.0,289.4 L91.9,287.7 L92.8,286.0 L93.7,284.4 L94.7,282.8 L95.6,281.3 L96.5,279.8 L97.4,278.3 L98.3,276.9 L99.2,275.6 L100.2,274.4 L101.1,273.2 L102.0,272.0 L102.9,270.8 L103.8,269.7 L104.7,268.6 L105.7,267.5 L106.6,266.5 L107.5,265.5 L108.4,264.5 L109.3,263.6 L110.2,262.7 L111.2,261.8 L112.1,260.9 L113.0,260.1 L113.9,259.3 L114.8,258.5 L115.7,257.8 L116.7,257.1 L117.6,256.3 L118.5,255.6 L119.4,254.9 L120.3,254.2 L121.2,253.5 L122.2,252.9 L123.1,252.3 L124.0,251.7 L124.9,251.1 L125.8,250.6 L126.7,250.2 L127.6,249.7 L128.6,249.4 L129.5,249.0 L130.4,248.7 L131.3,248.4 L132.2,248.1 L133.1,247.8 L134.1,247.5 L135.0,247.2 L135.9,246.9 L136.8,246.7 L137.7,246.4 L138.6,246.2 L139.6,246.0 L140.5,245.8 L141.4,245.7 L142.3,245.5 L143.2,245.4 L144.1,245.3 L145.1,245.3 L146.0,245.3 L146.9,245.3 L147.8,245.4 L148.7,245.5 L149.6,245.7 L150.6,245.8 L151.5,246.1 L152.4,246.3 L153.3,246.5 L154.2,246.8 L155.1,247.1 L156.1,247.5 L157.0,247.8 L157.9,248.2 L158.8,248.5 L159.7,248.9 L160.6,249.3 L161.6,249.7 L162.5,250.1 L163.4,250.6 L164.3,251.1 L165.2,251.8 L166.1,252.5 L167.1,253.2 L168.0,254.0 L168.9,254.9 L169.8,255.8 L170.7,256.7 L171.6,257.7 L172.6,258.8 L173.5,259.8 L174.4,260.9 L175.3,262.0 L176.2,263.2 L177.1,264.3 L178.1,265.5 L179.0,266.7 L179.9,267.8 M52.5,437.5 L53.3,435.6 L54.1,433.5 L54.9,431.5 L55.8,429.4 L56.6,427.3 L57.4,425.1 L58.2,422.9 L59.0,420.8 L59.8,418.7 L60.6,416.5 L61.5,414.4 L62.3,412.2 L63.1,410.0 L63.9,407.8 L64.7,405.6 L65.5,403.4 L66.4,401.2 L67.2,399.0 L68.0,396.8 L68.8,394.6 L69.6,392.5 L70.4,390.4 L71.2,388.3 L72.1,386.2 L72.9,384.2 L73.7,382.3 L74.5,380.3 L75.3,378.4 L76.1,376.5 L76.9,374.7 L77.8,372.9 L78.6,371.2 L79.4,369.6 L80.2,367.9 L81.0,366.4 L81.8,364.8 L82.7,363.4 L83.5,361.9 L84.3,360.5 L85.1,359.1 L85.9,357.7 L86.7,356.3 L87.5,355.0 L88.4,353.6 L89.2,352.3 L90.0,351.0 L90.8,349.6 L91.6,348.3 L92.4,347.1 L93.2,345.8 L94.1,344.5 L94.9,343.3 L95.7,342.1 L96.5,341.0 L97.3,339.8 L98.1,338.7 L99.0,337.7 L99.8,336.6 L100.6,335.6 M52.5,437.5 L53.1,431.4 L53.7,425.3 L54.3,419.4 L54.9,413.6 L55.6,408.0 L56.2,402.5 L56.8,397.3 L57.4,392.3 L58.0,387.5 L58.6,382.8 L59.2,378.1 L59.8,373.6 L60.4,369.1 L61.1,364.8 L61.7,360.6 L62.3,356.4 L62.9,352.4 L63.5,348.5 L64.1,344.8 L64.7,341.1 L65.3,337.7 L65.9,334.3 L66.6,331.1 L67.2,328.0 L67.8,325.0 L68.4,322.1 L69.0,319.4 L69.6,316.8 L70.2,314.3 L70.8,312.0 L71.4,309.8 L72.1,307.7 L72.7,305.6 L73.3,303.7 L73.9,301.8 L74.5,300.0 L75.1,298.2 L75.7,296.4 L76.3,294.6 L76.9,292.9 L77.5,291.1 L78.2,289.4 L78.8,287.7 L79.4,286.0 L80.0,284.4 L80.6,282.8 L81.2,281.3 L81.8,279.8 L82.4,278.3 L83.0,276.9 L83.7,275.6 L84.3,274.4 L84.9,273.2 L85.5,272.0 L86.1,270.8 L86.7,269.7 L87.3,268.6 L87.9,267.5 L88.5,266.5 L89.2,265.5 L89.8,264.5 L90.4,263.6 L91.0,262.7 L91.6,261.8 L92.2,260.9 L92.8,260.1 L93.4,259.3 L94.0,258.5 L94.7,257.8 L95.3,257.1 L95.9,256.3 L96.5,255.6 L97.1,254.9 L97.7,254.2 L98.3,253.5 L98.9,252.9 L99.5,252.3 L100.2,251.7 L100.8,251.1 L101.4,250.6 L102.0,250.2 L102.6,249.7 L103.2,249.4 L103.8,249.0 L104.4,248.7 L105.0,248.4 L105.7,248.1 L106.3,247.8 L106.9,247.5 L107.5,247.2 L108.1,246.9 L108.7,246.7 L109.3,246.4 L109.9,246.2 L110.5,246.0 L111.2,245.8 L111.8,245.7 L112.4,245.5 L113.0,245.4 L113.6,245.3 L114.2,245.3 L114.8,245.3 L115.4,245.3 L116.0,245.4 L116.7,245.5 L117.3,245.7 L117.9,245.8 L118.5,246.1 L119.1,246.3 L119.7,246.5 L120.3,246.8 L120.9,247.1 L121.5,247.5 L122.2,247.8 L122.8,248.2 L123.4,248.5 L124.0,248.9 L124.6,249.3 L125.2,249.7 L125.8,250.1 L126.4,250.6 L127.0,251.1 L127.6,251.8 L128.3,252.5 L128.9,253.2 L129.5,254.0 L130.1,254.9 L130.7,255.8 L131.3,256.7 L131.9,257.7 L132.5,258.8 L133.1,259.8 L133.8,260.9 L134.4,262.0 L135.0,263.2 L135.6,264.3 L136.2,265.5 L136.8,266.7 L137.4,267.8 M52.5,437.5 L53.0,434.3 L53.6,431.2 L54.1,428.1 L54.7,425.0 L55.2,422.0 L55.7,419.0 L56.3,416.1 L56.8,413.3 L57.3,410.6 L57.9,408.0 L58.4,405.4 L59.0,402.8 L59.5,400.3 L60.0,397.8 L60.6,395.3 L61.1,392.9 L61.7,390.6 L62.2,388.2 L62.7,386.0 L63.3,383.8 L63.8,381.6 L64.3,379.5 L64.9,377.5 L65.4,375.6 L66.0,373.7 L66.5,371.8 L67.0,370.0 L67.6,368.3 L68.1,366.6 L68.7,365.0 L69.2,363.5 L69.7,362.0 L70.3,360.6 L70.8,359.3 L71.3,358.0 L71.9,356.8 L72.4,355.6 L73.0,354.5 L73.5,353.3 L74.0,352.3 L74.6,351.2 L75.1,350.2 L75.7,349.1 L76.2,348.1 L76.7,347.1 L77.3,346.1 L77.8,345.1 L78.3,344.1 L78.9,343.1 L79.4,342.2 L80.0,341.2 L80.5,340.3 L81.0,339.4 L81.6,338.5 L82.1,337.7 L82.6,336.9 L83.2,336.1 L83.7,335.3 L84.3,334.6" stroke="#000" stroke-width="0.65" fill="none" opacity="0.9"/>
<path d="M242.5,284.8 L247.6,283.2 L252.7,281.7 L257.9,280.2 L263.0,278.8 L268.1,277.5 L273.3,276.2 L278.4,275.0 L283.5,273.8 L288.6,272.7 L293.8,271.7 L298.9,270.7 L304.0,269.7 L309.1,268.7 L314.3,267.7 L319.4,266.8 L324.5,266.0 L329.7,265.2 L334.8,264.5 L339.9,263.8 L345.0,263.3 L350.2,262.8 L355.3,262.4 L360.4,262.0 L365.6,261.6 L370.7,261.2 L375.8,260.8 L380.9,260.5 L386.1,260.2 L391.2,259.9 L396.3,259.7 L401.5,259.5 L406.6,259.4 L411.7,259.3 L416.8,259.4 L422.0,259.5 L427.1,259.6 L432.2,259.9 L437.4,260.2 L442.5,260.5 L447.6,260.9 L452.7,261.3 L457.9,261.8 L463.0,262.3 L468.1,262.8 L473.3,263.3 L478.4,263.9 L483.5,264.6 L488.6,265.4 L493.8,266.3 L498.9,267.4 L504.0,268.6 L509.2,269.8 L514.3,271.2 L519.4,272.6 L524.5,274.0 L529.7,275.5 L534.8,277.1 L539.9,278.6 L545.1,280.2 M223.8,285.3 L228.5,283.7 L233.1,282.2 L237.8,280.7 L242.4,279.3 L247.1,278.0 L251.7,276.7 L256.4,275.5 L261.0,274.3 L265.7,273.2 L270.3,272.1 L275.0,271.1 L279.6,270.1 L284.3,269.1 L288.9,268.2 L293.6,267.3 L298.2,266.4 L302.9,265.6 L307.5,264.9 L312.2,264.3 L316.8,263.7 L321.5,263.2 L326.1,262.8 L330.8,262.4 L335.4,262.0 L340.1,261.6 L344.7,261.2 L349.4,260.9 L354.0,260.6 L358.7,260.3 L363.3,260.1 L368.0,259.9 L372.6,259.8 L377.3,259.7 L381.9,259.8 L386.6,259.8 L391.2,260.0 L395.9,260.2 L400.5,260.5 L405.2,260.9 L409.8,261.3 L414.5,261.7 L419.1,262.2 L423.8,262.6 L428.4,263.2 L433.1,263.7 L437.7,264.2 L442.4,264.9 L447.0,265.7 L451.7,266.7 L456.3,267.7 L461.0,268.9 L465.6,270.2 L470.3,271.5 L474.9,272.9 L479.6,274.4 L484.2,275.9 L488.9,277.4 L493.5,279.0 L498.2,280.6 M205.0,286.4 L209.2,284.8 L213.4,283.3 L217.5,281.8 L221.7,280.4 L225.9,279.0 L230.0,277.7 L234.2,276.5 L238.4,275.3 L242.5,274.2 L246.7,273.2 L250.9,272.2 L255.0,271.2 L259.2,270.2 L263.4,269.2 L267.6,268.3 L271.7,267.5 L275.9,266.7 L280.1,265.9 L284.2,265.3 L288.4,264.7 L292.6,264.2 L296.7,263.8 L300.9,263.4 L305.1,263.0 L309.3,262.6 L313.4,262.2 L317.6,261.8 L321.8,261.5 L325.9,261.3 L330.1,261.0 L334.3,260.9 L338.4,260.7 L342.6,260.7 L346.8,260.7 L350.9,260.8 L355.1,261.0 L359.3,261.2 L363.5,261.5 L367.6,261.8 L371.8,262.2 L376.0,262.6 L380.1,263.1 L384.3,263.6 L388.5,264.1 L392.6,264.6 L396.8,265.1 L401.0,265.8 L405.2,266.6 L409.3,267.6 L413.5,268.6 L417.7,269.8 L421.8,271.0 L426.0,272.4 L430.2,273.8 L434.3,275.2 L438.5,276.7 L442.7,278.3 L446.8,279.8 L451.0,281.4 M186.2,290.5 L189.9,288.8 L193.6,287.2 L197.2,285.6 L200.9,284.1 L204.6,282.7 L208.2,281.3 L211.9,279.9 L215.6,278.7 L219.3,277.5 L222.9,276.3 L226.6,275.3 L230.3,274.2 L234.0,273.1 L237.6,272.1 L241.3,271.2 L245.0,270.2 L248.6,269.4 L252.3,268.6 L256.0,267.9 L259.7,267.3 L263.3,266.8 L267.0,266.3 L270.7,265.8 L274.4,265.4 L278.0,265.0 L281.7,264.6 L285.4,264.2 L289.0,263.9 L292.7,263.6 L296.4,263.3 L300.1,263.1 L303.7,263.0 L307.4,262.9 L311.1,262.9 L314.7,263.0 L318.4,263.1 L322.1,263.3 L325.8,263.6 L329.4,263.9 L333.1,264.3 L336.8,264.7 L340.5,265.2 L344.1,265.6 L347.8,266.1 L351.5,266.7 L355.1,267.2 L358.8,267.9 L362.5,268.7 L366.2,269.6 L369.8,270.6 L373.5,271.8 L377.2,273.0 L380.9,274.3 L384.5,275.7 L388.2,277.2 L391.9,278.7 L395.5,280.2 L399.2,281.7 L402.9,283.3 M167.1,298.3 L170.3,296.5 L173.4,294.7 L176.6,293.0 L179.8,291.4 L182.9,289.8 L186.1,288.3 L189.3,286.8 L192.4,285.5 L195.6,284.2 L198.8,282.9 L201.9,281.7 L205.1,280.6 L208.3,279.4 L211.4,278.4 L214.6,277.3 L217.7,276.3 L220.9,275.4 L224.1,274.5 L227.2,273.8 L230.4,273.1 L233.6,272.5 L236.7,272.0 L239.9,271.5 L243.1,271.0 L246.2,270.5 L249.4,270.1 L252.6,269.7 L255.7,269.3 L258.9,269.0 L262.1,268.7 L265.2,268.5 L268.4,268.3 L271.5,268.2 L274.7,268.2 L277.9,268.3 L281.0,268.4 L284.2,268.6 L287.4,268.8 L290.5,269.1 L293.7,269.5 L296.9,269.9 L300.0,270.3 L303.2,270.8 L306.4,271.2 L309.5,271.7 L312.7,272.3 L315.8,272.9 L319.0,273.7 L322.2,274.6 L325.3,275.6 L328.5,276.7 L331.7,277.9 L334.8,279.2 L338.0,280.5 L341.2,281.9 L344.3,283.4 L347.5,284.8 L350.7,286.3 L353.8,287.8 M148.3,308.4 L150.9,306.5 L153.6,304.7 L156.2,302.9 L158.9,301.3 L161.5,299.6 L164.2,298.1 L166.8,296.6 L169.5,295.2 L172.1,293.8 L174.8,292.5 L177.4,291.3 L180.1,290.1 L182.7,289.0 L185.4,287.8 L188.1,286.8 L190.7,285.8 L193.4,284.8 L196.0,283.9 L198.7,283.1 L201.3,282.4 L204.0,281.8 L206.6,281.3 L209.3,280.8 L211.9,280.2 L214.6,279.8 L217.2,279.3 L219.9,278.9 L222.5,278.5 L225.2,278.2 L227.8,277.9 L230.5,277.7 L233.1,277.5 L235.8,277.4 L238.4,277.3 L241.1,277.4 L243.8,277.5 L246.4,277.6 L249.1,277.9 L251.7,278.1 L254.4,278.5 L257.0,278.8 L259.7,279.2 L262.3,279.6 L265.0,280.1 L267.6,280.6 L270.3,281.1 L272.9,281.7 L275.6,282.4 L278.2,283.2 L280.9,284.2 L283.5,285.2 L286.2,286.4 L288.8,287.6 L291.5,288.9 L294.1,290.2 L296.8,291.6 L299.5,293.0 L302.1,294.4 L304.8,295.8 M129.3,314.1 L131.5,312.4 L133.6,310.8 L135.8,309.2 L137.9,307.6 L140.0,306.1 L142.2,304.7 L144.3,303.4 L146.4,302.1 L148.6,300.9 L150.7,299.7 L152.8,298.6 L155.0,297.5 L157.1,296.5 L159.3,295.4 L161.4,294.5 L163.5,293.5 L165.7,292.7 L167.8,291.9 L169.9,291.2 L172.1,290.5 L174.2,290.0 L176.3,289.5 L178.5,289.0 L180.6,288.5 L182.7,288.1 L184.9,287.7 L187.0,287.3 L189.2,287.0 L191.3,286.7 L193.4,286.4 L195.6,286.2 L197.7,286.0 L199.8,285.9 L202.0,285.9 L204.1,285.9 L206.2,286.0 L208.4,286.2 L210.5,286.4 L212.7,286.7 L214.8,287.0 L216.9,287.3 L219.1,287.7 L221.2,288.1 L223.3,288.6 L225.5,289.0 L227.6,289.5 L229.7,290.0 L231.9,290.7 L234.0,291.5 L236.2,292.4 L238.3,293.4 L240.4,294.5 L242.6,295.7 L244.7,296.9 L246.8,298.1 L249.0,299.4 L251.1,300.8 L253.2,302.1 L255.4,303.5 M100.6,335.6 L101.9,334.1 L103.3,332.5 L104.6,331.0 L106.0,329.6 L107.3,328.2 L108.6,326.9 L110.0,325.7 L111.3,324.5 L112.7,323.3 L114.0,322.3 L115.4,321.2 L116.7,320.2 L118.1,319.3 L119.4,318.3 L120.7,317.4 L122.1,316.6 L123.4,315.8 L124.8,315.0 L126.1,314.4 L127.5,313.8 L128.8,313.2 L130.2,312.8 L131.5,312.3 L132.8,311.9 L134.2,311.5 L135.5,311.1 L136.9,310.8 L138.2,310.4 L139.6,310.2 L140.9,309.9 L142.3,309.7 L143.6,309.6 L144.9,309.5 L146.3,309.4 L147.6,309.4 L149.0,309.5 L150.3,309.6 L151.7,309.8 L153.0,310.0 L154.3,310.3 L155.7,310.5 L157.0,310.9 L158.4,311.2 L159.7,311.6 L161.1,311.9 L162.4,312.3 L163.8,312.8 L165.1,313.4 L166.4,314.1 L167.8,314.8 L169.1,315.7 L170.5,316.6 L171.8,317.6 L173.2,318.6 L174.5,319.6 L175.9,320.7 L177.2,321.9 L178.5,323.0 L179.9,324.2 M84.3,334.6 L85.2,333.5 L86.1,332.3 L87.0,331.3 L87.9,330.2 L88.8,329.2 L89.7,328.3 L90.6,327.4 L91.5,326.5 L92.4,325.7 L93.3,324.9 L94.2,324.2 L95.1,323.5 L96.0,322.8 L96.9,322.1 L97.8,321.4 L98.7,320.8 L99.6,320.2 L100.5,319.6 L101.4,319.1 L102.3,318.7 L103.2,318.3 L104.1,318.0 L105.0,317.7 L105.9,317.4 L106.8,317.1 L107.7,316.8 L108.6,316.6 L109.5,316.4 L110.4,316.2 L111.3,316.0 L112.2,315.8 L113.1,315.7 L114.0,315.7 L114.9,315.7 L115.8,315.7 L116.7,315.8 L117.6,316.0 L118.5,316.1 L119.4,316.4 L120.3,316.6 L121.2,316.9 L122.1,317.2 L123.0,317.6 L123.9,317.9 L124.8,318.3 L125.7,318.7 L126.6,319.1 L127.5,319.7 L128.4,320.3 L129.3,321.0 L130.2,321.8 L131.1,322.7 L132.0,323.6 L132.9,324.6 L133.8,325.6 L134.7,326.7 L135.6,327.7 L136.5,328.8 L137.4,329.9" stroke="#0a0a0a" stroke-width="1.6" fill="none"/>
<path d="M52.5,628.1 L57.4,627.1 L62.2,626.1 L67.1,624.9 L72.0,623.7 L76.9,622.4 L81.7,621.0 L86.6,619.6 L91.5,618.1 L96.3,616.6 L101.2,615.0 L106.1,613.4 L111.0,611.8 L115.8,610.1 L120.7,608.3 L125.6,606.6 L130.4,604.8 L135.3,602.9 L140.2,601.1 L145.1,599.2 L149.9,597.3 L154.8,595.4 L159.7,593.5 L164.5,591.6 L169.4,589.6 L174.3,587.7 L179.2,585.7 L184.0,583.8 L188.9,581.8 L193.8,579.9 L198.6,577.9 L203.5,576.0 L208.4,574.1 L213.3,572.2 L218.1,570.2 L223.0,568.4 L227.9,566.5 L232.7,564.6 L237.6,562.8 L242.5,561.0 M52.5,644.2 L56.9,643.5 L61.3,642.7 L65.7,641.8 L70.1,640.9 L74.5,639.9 L78.9,638.9 L83.2,637.9 L87.6,636.8 L92.0,635.7 L96.4,634.5 L100.8,633.3 L105.2,632.1 L109.6,630.8 L114.0,629.6 L118.4,628.2 L122.8,626.9 L127.2,625.6 L131.6,624.2 L136.0,622.8 L140.3,621.4 L144.7,620.0 L149.1,618.6 L153.5,617.2 L157.9,615.7 L162.3,614.3 L166.7,612.8 L171.1,611.4 L175.5,610.0 L179.9,608.5 L184.3,607.1 L188.7,605.6 L193.1,604.2 L197.4,602.8 L201.8,601.4 L206.2,600.0 L210.6,598.6 L215.0,597.2 L219.4,595.9 L223.8,594.5 M52.5,657.2 L56.4,656.7 L60.3,656.1 L64.2,655.5 L68.1,654.9 L72.1,654.2 L76.0,653.5 L79.9,652.7 L83.8,651.9 L87.7,651.1 L91.6,650.3 L95.5,649.4 L99.4,648.6 L103.3,647.7 L107.2,646.8 L111.2,645.8 L115.1,644.9 L119.0,643.9 L122.9,642.9 L126.8,641.9 L130.7,640.9 L134.6,639.9 L138.5,638.9 L142.4,637.9 L146.4,636.9 L150.3,635.8 L154.2,634.8 L158.1,633.8 L162.0,632.7 L165.9,631.7 L169.8,630.7 L173.7,629.6 L177.6,628.6 L181.6,627.6 L185.5,626.6 L189.4,625.6 L193.3,624.6 L197.2,623.6 L201.1,622.6 L205.0,621.7 M52.5,665.1 L55.9,664.8 L59.4,664.5 L62.8,664.1 L66.2,663.7 L69.6,663.3 L73.1,662.9 L76.5,662.4 L79.9,661.9 L83.4,661.4 L86.8,660.9 L90.2,660.4 L93.6,659.8 L97.1,659.3 L100.5,658.7 L103.9,658.1 L107.4,657.5 L110.8,656.9 L114.2,656.2 L117.6,655.6 L121.1,655.0 L124.5,654.3 L127.9,653.7 L131.4,653.0 L134.8,652.3 L138.2,651.7 L141.6,651.0 L145.1,650.4 L148.5,649.7 L151.9,649.0 L155.4,648.4 L158.8,647.7 L162.2,647.0 L165.6,646.4 L169.1,645.7 L172.5,645.1 L175.9,644.4 L179.4,643.8 L182.8,643.2 L186.2,642.5 M52.5,670.4 L55.4,670.4 L58.4,670.3 L61.3,670.2 L64.3,670.0 L67.2,669.9 L70.1,669.7 L73.1,669.5 L76.0,669.3 L78.9,669.0 L81.9,668.8 L84.8,668.5 L87.8,668.2 L90.7,667.9 L93.6,667.6 L96.6,667.3 L99.5,667.0 L102.5,666.6 L105.4,666.3 L108.3,665.9 L111.3,665.6 L114.2,665.2 L117.2,664.8 L120.1,664.5 L123.0,664.1 L126.0,663.7 L128.9,663.3 L131.8,663.0 L134.8,662.6 L137.7,662.2 L140.7,661.8 L143.6,661.4 L146.5,661.0 L149.5,660.6 L152.4,660.3 L155.4,659.9 L158.3,659.5 L161.2,659.1 L164.2,658.7 L167.1,658.4 M52.5,675.6 L55.0,675.7 L57.4,675.7 L59.9,675.8 L62.3,675.8 L64.8,675.8 L67.2,675.8 L69.7,675.7 L72.1,675.7 L74.6,675.6 L77.1,675.5 L79.5,675.4 L82.0,675.3 L84.4,675.2 L86.9,675.1 L89.3,674.9 L91.8,674.8 L94.2,674.6 L96.7,674.4 L99.2,674.3 L101.6,674.1 L104.1,673.9 L106.5,673.7 L109.0,673.5 L111.4,673.3 L113.9,673.1 L116.3,672.9 L118.8,672.7 L121.3,672.5 L123.7,672.3 L126.2,672.1 L128.6,671.9 L131.1,671.7 L133.5,671.5 L136.0,671.3 L138.4,671.1 L140.9,670.8 L143.4,670.6 L145.8,670.4 L148.3,670.2 M52.5,683.1 L54.5,683.2 L56.4,683.1 L58.4,683.1 L60.4,683.1 L62.4,683.1 L64.3,683.0 L66.3,683.0 L68.3,682.9 L70.2,682.8 L72.2,682.8 L74.2,682.7 L76.1,682.6 L78.1,682.5 L80.1,682.4 L82.1,682.3 L84.0,682.2 L86.0,682.1 L88.0,682.0 L89.9,681.9 L91.9,681.8 L93.9,681.7 L95.8,681.6 L97.8,681.4 L99.8,681.3 L101.8,681.2 L103.7,681.1 L105.7,681.0 L107.7,680.8 L109.6,680.7 L111.6,680.6 L113.6,680.5 L115.6,680.3 L117.5,680.2 L119.5,680.1 L121.5,680.0 L123.4,679.9 L125.4,679.7 L127.4,679.6 L129.3,679.5 M52.5,687.8 L53.7,687.8 L55.0,687.9 L56.2,687.9 L57.4,687.9 L58.7,687.9 L59.9,687.9 L61.1,687.9 L62.4,687.9 L63.6,687.9 L64.8,687.9 L66.1,687.9 L67.3,687.9 L68.5,687.9 L69.8,687.9 L71.0,687.9 L72.2,687.9 L73.5,687.8 L74.7,687.8 L75.9,687.8 L77.2,687.8 L78.4,687.7 L79.6,687.7 L80.9,687.7 L82.1,687.7 L83.3,687.6 L84.6,687.6 L85.8,687.6 L87.0,687.5 L88.3,687.5 L89.5,687.5 L90.7,687.5 L92.0,687.4 L93.2,687.4 L94.4,687.4 L95.7,687.3 L96.9,687.3 L98.1,687.3 L99.4,687.2 L100.6,687.2 M52.5,690.0 L53.3,690.0 L54.1,690.0 L54.9,690.0 L55.8,690.0 L56.6,690.0 L57.4,690.0 L58.2,690.0 L59.0,690.0 L59.8,689.9 L60.6,689.9 L61.5,689.9 L62.3,689.9 L63.1,689.9 L63.9,689.9 L64.7,689.9 L65.5,689.9 L66.3,689.8 L67.2,689.8 L68.0,689.8 L68.8,689.8 L69.6,689.8 L70.4,689.8 L71.2,689.8 L72.0,689.7 L72.9,689.7 L73.7,689.7 L74.5,689.7 L75.3,689.7 L76.1,689.7 L76.9,689.7 L77.7,689.7 L78.6,689.6 L79.4,689.6 L80.2,689.6 L81.0,689.6 L81.8,689.6 L82.6,689.6 L83.5,689.6 L84.3,689.5 M52.5,636.5 L57.4,635.3 L62.2,634.1 L67.1,632.9 L72.0,631.5 L76.9,630.1 L81.7,628.7 L86.6,627.2 L91.5,625.7 L96.3,624.1 L101.2,622.5 L106.1,620.8 L111.0,619.2 L115.8,617.4 L120.7,615.7 L125.6,613.9 L130.4,612.1 L135.3,610.3 L140.2,608.5 L145.1,606.6 L149.9,604.8 L154.8,602.9 L159.7,601.0 L164.5,599.1 L169.4,597.2 L174.3,595.3 L179.2,593.4 L184.0,591.5 L188.9,589.6 L193.8,587.7 L198.6,585.9 L203.5,584.0 L208.4,582.1 L213.3,580.3 L218.1,578.5 L223.0,576.7 L227.9,574.9 L232.7,573.1 L237.6,571.3 L242.5,569.6 M52.5,650.5 L56.9,649.6 L61.3,648.7 L65.7,647.8 L70.1,646.8 L74.5,645.8 L78.9,644.7 L83.2,643.6 L87.6,642.5 L92.0,641.4 L96.4,640.2 L100.8,638.9 L105.2,637.7 L109.6,636.4 L114.0,635.1 L118.4,633.8 L122.8,632.5 L127.2,631.2 L131.6,629.8 L136.0,628.4 L140.3,627.1 L144.7,625.7 L149.1,624.3 L153.5,622.9 L157.9,621.5 L162.3,620.1 L166.7,618.7 L171.1,617.3 L175.5,615.9 L179.9,614.5 L184.3,613.1 L188.7,611.7 L193.1,610.4 L197.4,609.0 L201.8,607.7 L206.2,606.3 L210.6,605.0 L215.0,603.7 L219.4,602.4 L223.8,601.1 M52.5,661.9 L56.4,661.3 L60.3,660.7 L64.2,660.0 L68.1,659.3 L72.1,658.6 L76.0,657.8 L79.9,657.0 L83.8,656.2 L87.7,655.4 L91.6,654.6 L95.5,653.7 L99.4,652.8 L103.3,651.9 L107.2,651.0 L111.2,650.1 L115.1,649.1 L119.0,648.2 L122.9,647.2 L126.8,646.2 L130.7,645.2 L134.6,644.3 L138.5,643.3 L142.4,642.3 L146.4,641.3 L150.3,640.3 L154.2,639.3 L158.1,638.3 L162.0,637.3 L165.9,636.3 L169.8,635.3 L173.7,634.3 L177.6,633.4 L181.6,632.4 L185.5,631.4 L189.4,630.5 L193.3,629.5 L197.2,628.6 L201.1,627.7 L205.0,626.7 M52.5,671.1 L55.9,670.6 L59.4,670.2 L62.8,669.8 L66.2,669.3 L69.6,668.8 L73.1,668.3 L76.5,667.8 L79.9,667.2 L83.4,666.7 L86.8,666.1 L90.2,665.5 L93.6,664.9 L97.1,664.3 L100.5,663.7 L103.9,663.0 L107.4,662.4 L110.8,661.8 L114.2,661.1 L117.6,660.4 L121.1,659.8 L124.5,659.1 L127.9,658.4 L131.4,657.8 L134.8,657.1 L138.2,656.4 L141.6,655.7 L145.1,655.1 L148.5,654.4 L151.9,653.7 L155.4,653.0 L158.8,652.4 L162.2,651.7 L165.6,651.1 L169.1,650.4 L172.5,649.8 L175.9,649.1 L179.4,648.5 L182.8,647.9 L186.2,647.2 M52.5,678.1 L55.4,677.9 L58.4,677.6 L61.3,677.3 L64.3,677.0 L67.2,676.7 L70.1,676.4 L73.1,676.0 L76.0,675.7 L78.9,675.3 L81.9,675.0 L84.8,674.6 L87.8,674.2 L90.7,673.8 L93.6,673.5 L96.6,673.1 L99.5,672.6 L102.5,672.2 L105.4,671.8 L108.3,671.4 L111.3,671.0 L114.2,670.6 L117.2,670.1 L120.1,669.7 L123.0,669.3 L126.0,668.9 L128.9,668.4 L131.8,668.0 L134.8,667.6 L137.7,667.1 L140.7,666.7 L143.6,666.3 L146.5,665.9 L149.5,665.5 L152.4,665.0 L155.4,664.6 L158.3,664.2 L161.2,663.8 L164.2,663.4 L167.1,663.0 M52.5,683.2 L55.0,683.1 L57.4,682.9 L59.9,682.8 L62.3,682.6 L64.8,682.4 L67.2,682.2 L69.7,682.0 L72.1,681.8 L74.6,681.6 L77.1,681.4 L79.5,681.2 L82.0,681.0 L84.4,680.7 L86.9,680.5 L89.3,680.3 L91.8,680.0 L94.2,679.8 L96.7,679.6 L99.2,679.3 L101.6,679.1 L104.1,678.8 L106.5,678.6 L109.0,678.3 L111.4,678.1 L113.9,677.8 L116.3,677.6 L118.8,677.3 L121.3,677.1 L123.7,676.8 L126.2,676.6 L128.6,676.3 L131.1,676.1 L133.5,675.8 L136.0,675.6 L138.4,675.3 L140.9,675.1 L143.4,674.9 L145.8,674.6 L148.3,674.4 M52.5,686.7 L54.5,686.6 L56.4,686.6 L58.4,686.5 L60.4,686.4 L62.4,686.3 L64.3,686.2 L66.3,686.1 L68.3,686.0 L70.2,685.9 L72.2,685.8 L74.2,685.7 L76.1,685.5 L78.1,685.4 L80.1,685.3 L82.1,685.2 L84.0,685.1 L86.0,684.9 L88.0,684.8 L89.9,684.7 L91.9,684.6 L93.9,684.4 L95.8,684.3 L97.8,684.2 L99.8,684.0 L101.8,683.9 L103.7,683.8 L105.7,683.6 L107.7,683.5 L109.6,683.4 L111.6,683.3 L113.6,683.1 L115.6,683.0 L117.5,682.9 L119.5,682.7 L121.5,682.6 L123.4,682.5 L125.4,682.4 L127.4,682.3 L129.3,682.1 M52.5,689.6 L53.7,689.5 L55.0,689.5 L56.2,689.5 L57.4,689.5 L58.7,689.5 L59.9,689.4 L61.1,689.4 L62.4,689.4 L63.6,689.4 L64.8,689.3 L66.1,689.3 L67.3,689.3 L68.5,689.2 L69.8,689.2 L71.0,689.2 L72.2,689.2 L73.5,689.1 L74.7,689.1 L75.9,689.1 L77.2,689.0 L78.4,689.0 L79.6,689.0 L80.9,688.9 L82.1,688.9 L83.3,688.9 L84.6,688.8 L85.8,688.8 L87.0,688.8 L88.3,688.7 L89.5,688.7 L90.7,688.7 L92.0,688.6 L93.2,688.6 L94.4,688.6 L95.7,688.6 L96.9,688.5 L98.1,688.5 L99.4,688.5 L100.6,688.4 M52.5,690.2 L53.3,690.2 L54.1,690.2 L54.9,690.2 L55.8,690.2 L56.6,690.2 L57.4,690.2 L58.2,690.2 L59.0,690.2 L59.8,690.2 L60.6,690.2 L61.5,690.1 L62.3,690.1 L63.1,690.1 L63.9,690.1 L64.7,690.1 L65.5,690.1 L66.3,690.1 L67.2,690.1 L68.0,690.1 L68.8,690.1 L69.6,690.1 L70.4,690.0 L71.2,690.0 L72.0,690.0 L72.9,690.0 L73.7,690.0 L74.5,690.0 L75.3,690.0 L76.1,690.0 L76.9,690.0 L77.7,690.0 L78.6,690.0 L79.4,689.9 L80.2,689.9 L81.0,689.9 L81.8,689.9 L82.6,689.9 L83.5,689.9 L84.3,689.9" stroke="#1d4f86" stroke-width="1" fill="none" opacity="0.75"/>
<path d="M242.5,569.6 L247.6,567.8 L252.7,566.0 L257.9,564.3 L263.0,562.6 L268.1,560.9 L273.3,559.2 L278.4,557.6 L283.5,556.0 L288.6,554.5 L293.8,552.9 L298.9,551.5 L304.0,550.0 L309.1,548.6 L314.3,547.3 L319.4,546.0 L324.5,544.7 L329.7,543.4 L334.8,542.2 L339.9,541.1 L345.0,540.0 L350.2,538.9 L355.3,537.9 L360.4,536.9 L365.6,535.9 L370.7,535.0 L375.8,534.1 L380.9,533.3 L386.1,532.5 L391.2,531.8 L396.3,531.1 L401.5,530.4 L406.6,529.8 L411.7,529.2 L416.8,528.6 L422.0,528.1 L427.1,527.6 L432.2,527.2 L437.4,526.8 L442.5,526.4 L447.6,526.1 L452.7,525.7 L457.9,525.5 L463.0,525.2 L468.1,525.0 L473.3,524.7 L478.4,524.5 L483.5,524.4 L488.6,524.2 L493.8,524.1 L498.9,524.0 L504.0,523.9 L509.2,523.8 L514.3,523.7 L519.4,523.6 L524.5,523.6 L529.7,523.5 L534.8,523.5 L539.9,523.4 L545.1,523.3 M223.8,601.1 L228.5,599.8 L233.1,598.4 L237.8,597.1 L242.4,595.9 L247.1,594.6 L251.7,593.4 L256.4,592.2 L261.0,591.0 L265.7,589.8 L270.3,588.7 L275.0,587.6 L279.6,586.5 L284.3,585.5 L288.9,584.5 L293.6,583.5 L298.2,582.6 L302.9,581.6 L307.5,580.7 L312.2,579.9 L316.8,579.0 L321.5,578.2 L326.1,577.5 L330.8,576.7 L335.4,576.0 L340.1,575.4 L344.7,574.7 L349.4,574.1 L354.0,573.5 L358.7,572.9 L363.3,572.4 L368.0,571.9 L372.6,571.5 L377.3,571.0 L381.9,570.6 L386.6,570.2 L391.2,569.9 L395.9,569.5 L400.5,569.2 L405.2,568.9 L409.8,568.7 L414.5,568.4 L419.1,568.2 L423.8,568.0 L428.4,567.9 L433.1,567.7 L437.7,567.6 L442.4,567.4 L447.0,567.3 L451.7,567.2 L456.3,567.1 L461.0,567.1 L465.6,567.0 L470.3,566.9 L474.9,566.9 L479.6,566.8 L484.2,566.8 L488.9,566.7 L493.5,566.7 L498.2,566.6 M205.0,626.7 L209.2,625.8 L213.4,624.8 L217.5,623.9 L221.7,623.0 L225.9,622.1 L230.0,621.2 L234.2,620.3 L238.4,619.5 L242.5,618.7 L246.7,617.8 L250.9,617.1 L255.0,616.3 L259.2,615.5 L263.4,614.8 L267.6,614.1 L271.7,613.4 L275.9,612.7 L280.1,612.1 L284.2,611.5 L288.4,610.9 L292.6,610.3 L296.7,609.8 L300.9,609.2 L305.1,608.7 L309.3,608.2 L313.4,607.8 L317.6,607.3 L321.8,606.9 L325.9,606.5 L330.1,606.1 L334.3,605.8 L338.4,605.4 L342.6,605.1 L346.8,604.8 L350.9,604.5 L355.1,604.3 L359.3,604.0 L363.5,603.8 L367.6,603.6 L371.8,603.4 L376.0,603.3 L380.1,603.1 L384.3,603.0 L388.5,602.8 L392.6,602.7 L396.8,602.6 L401.0,602.5 L405.2,602.4 L409.3,602.4 L413.5,602.3 L417.7,602.3 L421.8,602.2 L426.0,602.2 L430.2,602.1 L434.3,602.1 L438.5,602.1 L442.7,602.0 L446.8,602.0 L451.0,602.0 M186.2,647.2 L189.9,646.6 L193.6,645.9 L197.2,645.3 L200.9,644.7 L204.6,644.1 L208.2,643.4 L211.9,642.9 L215.6,642.3 L219.3,641.7 L222.9,641.2 L226.6,640.6 L230.3,640.1 L234.0,639.6 L237.6,639.1 L241.3,638.6 L245.0,638.1 L248.6,637.7 L252.3,637.2 L256.0,636.8 L259.7,636.4 L263.3,636.0 L267.0,635.6 L270.7,635.3 L274.4,634.9 L278.0,634.6 L281.7,634.3 L285.4,634.0 L289.0,633.7 L292.7,633.4 L296.4,633.2 L300.1,632.9 L303.7,632.7 L307.4,632.5 L311.1,632.3 L314.7,632.1 L318.4,631.9 L322.1,631.7 L325.8,631.6 L329.4,631.4 L333.1,631.3 L336.8,631.2 L340.5,631.1 L344.1,631.0 L347.8,630.9 L351.5,630.8 L355.1,630.8 L358.8,630.7 L362.5,630.7 L366.2,630.6 L369.8,630.6 L373.5,630.5 L377.2,630.5 L380.9,630.5 L384.5,630.4 L388.2,630.4 L391.9,630.4 L395.5,630.4 L399.2,630.3 L402.9,630.3 M167.1,663.0 L170.3,662.6 L173.4,662.2 L176.6,661.8 L179.8,661.4 L182.9,661.0 L186.1,660.6 L189.3,660.2 L192.4,659.9 L195.6,659.5 L198.8,659.2 L201.9,658.8 L205.1,658.5 L208.3,658.1 L211.4,657.8 L214.6,657.5 L217.7,657.2 L220.9,656.9 L224.1,656.7 L227.2,656.4 L230.4,656.1 L233.6,655.9 L236.7,655.6 L239.9,655.4 L243.1,655.2 L246.2,655.0 L249.4,654.8 L252.6,654.6 L255.7,654.4 L258.9,654.2 L262.1,654.0 L265.2,653.9 L268.4,653.7 L271.5,653.6 L274.7,653.5 L277.9,653.4 L281.0,653.2 L284.2,653.1 L287.4,653.0 L290.5,652.9 L293.7,652.9 L296.9,652.8 L300.0,652.7 L303.2,652.7 L306.4,652.6 L309.5,652.6 L312.7,652.5 L315.8,652.5 L319.0,652.4 L322.2,652.4 L325.3,652.4 L328.5,652.4 L331.7,652.3 L334.8,652.3 L338.0,652.3 L341.2,652.3 L344.3,652.3 L347.5,652.3 L350.7,652.2 L353.8,652.2 M148.3,674.4 L150.9,674.2 L153.6,673.9 L156.2,673.7 L158.9,673.4 L161.5,673.2 L164.2,673.0 L166.8,672.8 L169.5,672.5 L172.1,672.3 L174.8,672.1 L177.4,671.9 L180.1,671.7 L182.7,671.5 L185.4,671.3 L188.1,671.2 L190.7,671.0 L193.4,670.8 L196.0,670.6 L198.7,670.5 L201.3,670.3 L204.0,670.2 L206.6,670.0 L209.3,669.9 L211.9,669.8 L214.6,669.7 L217.2,669.5 L219.9,669.4 L222.5,669.3 L225.2,669.2 L227.8,669.1 L230.5,669.0 L233.1,668.9 L235.8,668.9 L238.4,668.8 L241.1,668.7 L243.8,668.6 L246.4,668.6 L249.1,668.5 L251.7,668.5 L254.4,668.4 L257.0,668.4 L259.7,668.3 L262.3,668.3 L265.0,668.3 L267.6,668.2 L270.3,668.2 L272.9,668.2 L275.6,668.2 L278.2,668.2 L280.9,668.1 L283.5,668.1 L286.2,668.1 L288.8,668.1 L291.5,668.1 L294.1,668.1 L296.8,668.1 L299.5,668.1 L302.1,668.1 L304.8,668.0 M129.3,682.1 L131.5,682.0 L133.6,681.9 L135.8,681.8 L137.9,681.6 L140.0,681.5 L142.2,681.4 L144.3,681.3 L146.4,681.2 L148.6,681.1 L150.7,680.9 L152.8,680.8 L155.0,680.7 L157.1,680.6 L159.3,680.5 L161.4,680.4 L163.5,680.4 L165.7,680.3 L167.8,680.2 L169.9,680.1 L172.1,680.0 L174.2,679.9 L176.3,679.9 L178.5,679.8 L180.6,679.7 L182.7,679.7 L184.9,679.6 L187.0,679.5 L189.2,679.5 L191.3,679.4 L193.4,679.4 L195.6,679.3 L197.7,679.3 L199.8,679.2 L202.0,679.2 L204.1,679.2 L206.2,679.1 L208.4,679.1 L210.5,679.1 L212.7,679.0 L214.8,679.0 L216.9,679.0 L219.1,679.0 L221.2,679.0 L223.3,678.9 L225.5,678.9 L227.6,678.9 L229.7,678.9 L231.9,678.9 L234.0,678.9 L236.2,678.9 L238.3,678.9 L240.4,678.9 L242.6,678.8 L244.7,678.8 L246.8,678.8 L249.0,678.8 L251.1,678.8 L253.2,678.8 L255.4,678.8 M100.6,688.4 L101.9,688.4 L103.3,688.4 L104.6,688.3 L106.0,688.3 L107.3,688.3 L108.6,688.2 L110.0,688.2 L111.3,688.2 L112.7,688.2 L114.0,688.1 L115.4,688.1 L116.7,688.1 L118.1,688.1 L119.4,688.0 L120.7,688.0 L122.1,688.0 L123.4,688.0 L124.8,687.9 L126.1,687.9 L127.5,687.9 L128.8,687.9 L130.2,687.9 L131.5,687.9 L132.8,687.8 L134.2,687.8 L135.5,687.8 L136.9,687.8 L138.2,687.8 L139.6,687.8 L140.9,687.7 L142.3,687.7 L143.6,687.7 L144.9,687.7 L146.3,687.7 L147.6,687.7 L149.0,687.7 L150.3,687.7 L151.7,687.7 L153.0,687.7 L154.3,687.7 L155.7,687.7 L157.0,687.6 L158.4,687.6 L159.7,687.6 L161.1,687.6 L162.4,687.6 L163.8,687.6 L165.1,687.6 L166.4,687.6 L167.8,687.6 L169.1,687.6 L170.5,687.6 L171.8,687.6 L173.2,687.6 L174.5,687.6 L175.9,687.6 L177.2,687.6 L178.5,687.6 L179.9,687.6 M84.3,689.9 L85.2,689.9 L86.1,689.9 L87.0,689.9 L87.9,689.9 L88.8,689.8 L89.7,689.8 L90.6,689.8 L91.5,689.8 L92.4,689.8 L93.3,689.8 L94.2,689.8 L95.1,689.8 L96.0,689.8 L96.9,689.8 L97.8,689.8 L98.7,689.8 L99.6,689.8 L100.5,689.7 L101.4,689.7 L102.3,689.7 L103.2,689.7 L104.1,689.7 L105.0,689.7 L105.9,689.7 L106.8,689.7 L107.7,689.7 L108.6,689.7 L109.5,689.7 L110.4,689.7 L111.3,689.7 L112.2,689.7 L113.1,689.7 L114.0,689.7 L114.9,689.7 L115.8,689.7 L116.7,689.7 L117.6,689.7 L118.5,689.7 L119.4,689.7 L120.3,689.7 L121.2,689.7 L122.1,689.7 L123.0,689.7 L123.9,689.7 L124.8,689.7 L125.7,689.6 L126.6,689.6 L127.5,689.6 L128.4,689.6 L129.3,689.6 L130.2,689.6 L131.1,689.6 L132.0,689.6 L132.9,689.6 L133.8,689.6 L134.7,689.6 L135.6,689.6 L136.5,689.6 L137.4,689.6" stroke="#1d4f86" stroke-width="1.2" fill="none"/>
<path d="M242.5,561.0 L247.6,559.1 L252.7,557.2 L257.9,555.4 L263.0,553.6 L268.1,551.8 L273.3,550.1 L278.4,548.4 L283.5,546.7 L288.6,545.1 L293.8,543.5 L298.9,541.9 L304.0,540.4 L309.1,538.9 L314.3,537.5 L319.4,536.1 L324.5,534.7 L329.7,533.4 L334.8,532.1 L339.9,530.9 L345.0,529.7 L350.2,528.6 L355.3,527.5 L360.4,526.4 L365.6,525.4 L370.7,524.4 L375.8,523.5 L380.9,522.6 L386.1,521.7 L391.2,520.9 L396.3,520.2 L401.5,519.4 L406.6,518.7 L411.7,518.1 L416.8,517.5 L422.0,516.9 L427.1,516.3 L432.2,515.8 L437.4,515.4 L442.5,514.9 L447.6,514.5 L452.7,514.1 L457.9,513.8 L463.0,513.4 L468.1,513.1 L473.3,512.9 L478.4,512.6 L483.5,512.4 L488.6,512.1 L493.8,511.9 L498.9,511.7 L504.0,511.5 L509.2,511.4 L514.3,511.2 L519.4,511.0 L524.5,510.9 L529.7,510.7 L534.8,510.5 L539.9,510.3 L545.1,510.2 M223.8,594.5 L228.5,593.1 L233.1,591.7 L237.8,590.4 L242.4,589.0 L247.1,587.7 L251.7,586.4 L256.4,585.1 L261.0,583.9 L265.7,582.7 L270.3,581.5 L275.0,580.3 L279.6,579.2 L284.3,578.1 L288.9,577.0 L293.6,576.0 L298.2,574.9 L302.9,574.0 L307.5,573.0 L312.2,572.1 L316.8,571.2 L321.5,570.3 L326.1,569.5 L330.8,568.7 L335.4,568.0 L340.1,567.2 L344.7,566.5 L349.4,565.9 L354.0,565.2 L358.7,564.6 L363.3,564.1 L368.0,563.5 L372.6,563.0 L377.3,562.5 L381.9,562.1 L386.6,561.6 L391.2,561.2 L395.9,560.8 L400.5,560.5 L405.2,560.2 L409.8,559.8 L414.5,559.6 L419.1,559.3 L423.8,559.1 L428.4,558.8 L433.1,558.6 L437.7,558.4 L442.4,558.2 L447.0,558.1 L451.7,557.9 L456.3,557.8 L461.0,557.6 L465.6,557.5 L470.3,557.4 L474.9,557.2 L479.6,557.1 L484.2,557.0 L488.9,556.9 L493.5,556.7 L498.2,556.6 M205.0,621.7 L209.2,620.7 L213.4,619.7 L217.5,618.7 L221.7,617.7 L225.9,616.8 L230.0,615.8 L234.2,614.9 L238.4,614.0 L242.5,613.1 L246.7,612.3 L250.9,611.4 L255.0,610.6 L259.2,609.8 L263.4,609.0 L267.6,608.3 L271.7,607.5 L275.9,606.8 L280.1,606.1 L284.2,605.5 L288.4,604.8 L292.6,604.2 L296.7,603.6 L300.9,603.0 L305.1,602.5 L309.3,602.0 L313.4,601.4 L317.6,601.0 L321.8,600.5 L325.9,600.1 L330.1,599.7 L334.3,599.3 L338.4,598.9 L342.6,598.5 L346.8,598.2 L350.9,597.9 L355.1,597.6 L359.3,597.3 L363.5,597.1 L367.6,596.8 L371.8,596.6 L376.0,596.4 L380.1,596.2 L384.3,596.0 L388.5,595.9 L392.6,595.7 L396.8,595.6 L401.0,595.4 L405.2,595.3 L409.3,595.2 L413.5,595.1 L417.7,595.0 L421.8,594.9 L426.0,594.8 L430.2,594.7 L434.3,594.6 L438.5,594.5 L442.7,594.5 L446.8,594.4 L451.0,594.3 M186.2,642.5 L189.9,641.9 L193.6,641.2 L197.2,640.6 L200.9,639.9 L204.6,639.3 L208.2,638.7 L211.9,638.1 L215.6,637.5 L219.3,636.9 L222.9,636.4 L226.6,635.8 L230.3,635.3 L234.0,634.7 L237.6,634.2 L241.3,633.7 L245.0,633.2 L248.6,632.8 L252.3,632.3 L256.0,631.9 L259.7,631.4 L263.3,631.0 L267.0,630.6 L270.7,630.2 L274.4,629.9 L278.0,629.5 L281.7,629.2 L285.4,628.8 L289.0,628.5 L292.7,628.2 L296.4,628.0 L300.1,627.7 L303.7,627.4 L307.4,627.2 L311.1,627.0 L314.7,626.8 L318.4,626.6 L322.1,626.4 L325.8,626.2 L329.4,626.1 L333.1,625.9 L336.8,625.8 L340.5,625.6 L344.1,625.5 L347.8,625.4 L351.5,625.3 L355.1,625.2 L358.8,625.1 L362.5,625.0 L366.2,624.9 L369.8,624.9 L373.5,624.8 L377.2,624.7 L380.9,624.7 L384.5,624.6 L388.2,624.6 L391.9,624.5 L395.5,624.4 L399.2,624.4 L402.9,624.3 M167.1,658.4 L170.3,658.0 L173.4,657.6 L176.6,657.2 L179.8,656.8 L182.9,656.4 L186.1,656.1 L189.3,655.7 L192.4,655.4 L195.6,655.0 L198.8,654.7 L201.9,654.3 L205.1,654.0 L208.3,653.7 L211.4,653.4 L214.6,653.0 L217.7,652.7 L220.9,652.5 L224.1,652.2 L227.2,651.9 L230.4,651.6 L233.6,651.4 L236.7,651.1 L239.9,650.9 L243.1,650.7 L246.2,650.4 L249.4,650.2 L252.6,650.0 L255.7,649.8 L258.9,649.6 L262.1,649.5 L265.2,649.3 L268.4,649.1 L271.5,649.0 L274.7,648.8 L277.9,648.7 L281.0,648.6 L284.2,648.5 L287.4,648.4 L290.5,648.2 L293.7,648.2 L296.9,648.1 L300.0,648.0 L303.2,647.9 L306.4,647.8 L309.5,647.8 L312.7,647.7 L315.8,647.6 L319.0,647.6 L322.2,647.5 L325.3,647.5 L328.5,647.4 L331.7,647.4 L334.8,647.4 L338.0,647.3 L341.2,647.3 L344.3,647.2 L347.5,647.2 L350.7,647.2 L353.8,647.1 M148.3,670.2 L150.9,670.0 L153.6,669.8 L156.2,669.6 L158.9,669.3 L161.5,669.1 L164.2,668.9 L166.8,668.7 L169.5,668.5 L172.1,668.3 L174.8,668.1 L177.4,667.9 L180.1,667.7 L182.7,667.5 L185.4,667.3 L188.1,667.2 L190.7,667.0 L193.4,666.8 L196.0,666.7 L198.7,666.5 L201.3,666.3 L204.0,666.2 L206.6,666.0 L209.3,665.9 L211.9,665.8 L214.6,665.6 L217.2,665.5 L219.9,665.4 L222.5,665.3 L225.2,665.2 L227.8,665.0 L230.5,664.9 L233.1,664.9 L235.8,664.8 L238.4,664.7 L241.1,664.6 L243.8,664.5 L246.4,664.4 L249.1,664.4 L251.7,664.3 L254.4,664.3 L257.0,664.2 L259.7,664.1 L262.3,664.1 L265.0,664.1 L267.6,664.0 L270.3,664.0 L272.9,663.9 L275.6,663.9 L278.2,663.9 L280.9,663.8 L283.5,663.8 L286.2,663.8 L288.8,663.8 L291.5,663.7 L294.1,663.7 L296.8,663.7 L299.5,663.7 L302.1,663.6 L304.8,663.6 M129.3,679.5 L131.5,679.4 L133.6,679.2 L135.8,679.1 L137.9,679.0 L140.0,678.8 L142.2,678.7 L144.3,678.6 L146.4,678.5 L148.6,678.4 L150.7,678.3 L152.8,678.1 L155.0,678.0 L157.1,677.9 L159.3,677.8 L161.4,677.7 L163.5,677.6 L165.7,677.5 L167.8,677.4 L169.9,677.3 L172.1,677.2 L174.2,677.2 L176.3,677.1 L178.5,677.0 L180.6,676.9 L182.7,676.8 L184.9,676.8 L187.0,676.7 L189.2,676.6 L191.3,676.6 L193.4,676.5 L195.6,676.5 L197.7,676.4 L199.8,676.4 L202.0,676.3 L204.1,676.3 L206.2,676.2 L208.4,676.2 L210.5,676.1 L212.7,676.1 L214.8,676.1 L216.9,676.0 L219.1,676.0 L221.2,676.0 L223.3,676.0 L225.5,675.9 L227.6,675.9 L229.7,675.9 L231.9,675.9 L234.0,675.9 L236.2,675.8 L238.3,675.8 L240.4,675.8 L242.6,675.8 L244.7,675.8 L246.8,675.8 L249.0,675.8 L251.1,675.7 L253.2,675.7 L255.4,675.7 M100.6,687.2 L101.9,687.2 L103.3,687.1 L104.6,687.1 L106.0,687.1 L107.3,687.0 L108.6,687.0 L110.0,687.0 L111.3,686.9 L112.7,686.9 L114.0,686.9 L115.4,686.9 L116.7,686.8 L118.1,686.8 L119.4,686.8 L120.7,686.7 L122.1,686.7 L123.4,686.7 L124.8,686.7 L126.1,686.6 L127.5,686.6 L128.8,686.6 L130.2,686.6 L131.5,686.5 L132.8,686.5 L134.2,686.5 L135.5,686.5 L136.9,686.5 L138.2,686.4 L139.6,686.4 L140.9,686.4 L142.3,686.4 L143.6,686.4 L144.9,686.4 L146.3,686.3 L147.6,686.3 L149.0,686.3 L150.3,686.3 L151.7,686.3 L153.0,686.3 L154.3,686.3 L155.7,686.3 L157.0,686.3 L158.4,686.2 L159.7,686.2 L161.1,686.2 L162.4,686.2 L163.8,686.2 L165.1,686.2 L166.4,686.2 L167.8,686.2 L169.1,686.2 L170.5,686.2 L171.8,686.2 L173.2,686.2 L174.5,686.2 L175.9,686.2 L177.2,686.2 L178.5,686.2 L179.9,686.2 M84.3,689.5 L85.2,689.5 L86.1,689.5 L87.0,689.5 L87.9,689.5 L88.8,689.5 L89.7,689.5 L90.6,689.4 L91.5,689.4 L92.4,689.4 L93.3,689.4 L94.2,689.4 L95.1,689.4 L96.0,689.4 L96.9,689.4 L97.8,689.4 L98.7,689.3 L99.6,689.3 L100.5,689.3 L101.4,689.3 L102.3,689.3 L103.2,689.3 L104.1,689.3 L105.0,689.3 L105.9,689.3 L106.8,689.3 L107.7,689.3 L108.6,689.2 L109.5,689.2 L110.4,689.2 L111.3,689.2 L112.2,689.2 L113.1,689.2 L114.0,689.2 L114.9,689.2 L115.8,689.2 L116.7,689.2 L117.6,689.2 L118.5,689.2 L119.4,689.2 L120.3,689.2 L121.2,689.2 L122.1,689.2 L123.0,689.2 L123.9,689.2 L124.8,689.2 L125.7,689.2 L126.6,689.2 L127.5,689.2 L128.4,689.2 L129.3,689.2 L130.2,689.2 L131.1,689.2 L132.0,689.2 L132.9,689.2 L133.8,689.2 L134.7,689.2 L135.6,689.2 L136.5,689.1 L137.4,689.1" stroke="#1d4f86" stroke-width="1.5" fill="none"/>
<path d="M52.5,646.5 L57.4,646.5 L62.2,646.5 L67.1,646.5 L72.0,646.5 L76.9,646.5 L81.7,646.5 L86.6,646.5 L91.5,646.5 L96.3,646.5 L101.2,646.5 L106.1,646.5 L111.0,646.5 L115.8,646.5 L120.7,646.5 L125.6,646.5 L130.4,646.5 L135.3,646.5 L140.2,646.5 L145.1,646.5 L149.9,646.5 L154.8,646.5 L159.7,646.5 L164.5,646.5 L169.4,646.5 L174.3,646.5 L179.2,646.5 L184.0,646.5 L188.9,646.5 L193.8,646.5 L198.6,646.5 L203.5,646.5 L208.4,646.5 L213.3,646.5 L218.1,646.5 L223.0,646.5 L227.9,646.5 L232.7,646.5 L237.6,646.5 L242.5,646.5 M52.5,654.7 L56.9,654.7 L61.3,654.7 L65.7,654.7 L70.1,654.7 L74.5,654.7 L78.9,654.7 L83.2,654.7 L87.6,654.7 L92.0,654.7 L96.4,654.7 L100.8,654.7 L105.2,654.7 L109.6,654.7 L114.0,654.7 L118.4,654.7 L122.8,654.7 L127.2,654.7 L131.6,654.7 L136.0,654.7 L140.3,654.7 L144.7,654.7 L149.1,654.7 L153.5,654.7 L157.9,654.7 L162.3,654.7 L166.7,654.7 L171.1,654.7 L175.5,654.7 L179.9,654.7 L184.3,654.7 L188.7,654.7 L193.1,654.7 L197.4,654.7 L201.8,654.7 L206.2,654.7 L210.6,654.7 L215.0,654.7 L219.4,654.7 L223.8,654.7 M52.5,662.1 L56.4,662.1 L60.3,662.1 L64.2,662.1 L68.1,662.1 L72.1,662.1 L76.0,662.1 L79.9,662.1 L83.8,662.1 L87.7,662.1 L91.6,662.1 L95.5,662.1 L99.4,662.1 L103.3,662.1 L107.2,662.1 L111.2,662.1 L115.1,662.1 L119.0,662.1 L122.9,662.1 L126.8,662.1 L130.7,662.1 L134.6,662.1 L138.5,662.1 L142.4,662.1 L146.4,662.1 L150.3,662.1 L154.2,662.1 L158.1,662.1 L162.0,662.1 L165.9,662.1 L169.8,662.1 L173.7,662.1 L177.6,662.1 L181.6,662.1 L185.5,662.1 L189.4,662.1 L193.3,662.1 L197.2,662.1 L201.1,662.1 L205.0,662.1 M52.5,668.7 L55.9,668.7 L59.4,668.7 L62.8,668.7 L66.2,668.7 L69.6,668.7 L73.1,668.7 L76.5,668.7 L79.9,668.7 L83.4,668.7 L86.8,668.7 L90.2,668.7 L93.6,668.7 L97.1,668.7 L100.5,668.7 L103.9,668.7 L107.4,668.7 L110.8,668.7 L114.2,668.7 L117.6,668.7 L121.1,668.7 L124.5,668.7 L127.9,668.7 L131.4,668.7 L134.8,668.7 L138.2,668.7 L141.6,668.7 L145.1,668.7 L148.5,668.7 L151.9,668.7 L155.4,668.7 L158.8,668.7 L162.2,668.7 L165.6,668.7 L169.1,668.7 L172.5,668.7 L175.9,668.7 L179.4,668.7 L182.8,668.7 L186.2,668.7 M52.5,674.5 L55.4,674.5 L58.4,674.5 L61.3,674.5 L64.3,674.5 L67.2,674.5 L70.1,674.5 L73.1,674.5 L76.0,674.5 L78.9,674.5 L81.9,674.5 L84.8,674.5 L87.8,674.5 L90.7,674.5 L93.6,674.5 L96.6,674.5 L99.5,674.5 L102.5,674.5 L105.4,674.5 L108.3,674.5 L111.3,674.5 L114.2,674.5 L117.2,674.5 L120.1,674.5 L123.0,674.5 L126.0,674.5 L128.9,674.5 L131.8,674.5 L134.8,674.5 L137.7,674.5 L140.7,674.5 L143.6,674.5 L146.5,674.5 L149.5,674.5 L152.4,674.5 L155.4,674.5 L158.3,674.5 L161.2,674.5 L164.2,674.5 L167.1,674.5 M52.5,679.3 L55.0,679.3 L57.4,679.3 L59.9,679.3 L62.3,679.3 L64.8,679.3 L67.2,679.3 L69.7,679.3 L72.1,679.3 L74.6,679.3 L77.1,679.3 L79.5,679.3 L82.0,679.3 L84.4,679.3 L86.9,679.3 L89.3,679.3 L91.8,679.3 L94.2,679.3 L96.7,679.3 L99.2,679.3 L101.6,679.3 L104.1,679.3 L106.5,679.3 L109.0,679.3 L111.4,679.3 L113.9,679.3 L116.3,679.3 L118.8,679.3 L121.3,679.3 L123.7,679.3 L126.2,679.3 L128.6,679.3 L131.1,679.3 L133.5,679.3 L136.0,679.3 L138.4,679.3 L140.9,679.3 L143.4,679.3 L145.8,679.3 L148.3,679.3 M52.5,683.3 L54.5,683.3 L56.4,683.3 L58.4,683.3 L60.4,683.3 L62.4,683.3 L64.3,683.3 L66.3,683.3 L68.3,683.3 L70.2,683.3 L72.2,683.3 L74.2,683.3 L76.1,683.3 L78.1,683.3 L80.1,683.3 L82.1,683.3 L84.0,683.3 L86.0,683.3 L88.0,683.3 L89.9,683.3 L91.9,683.3 L93.9,683.3 L95.8,683.3 L97.8,683.3 L99.8,683.3 L101.8,683.3 L103.7,683.3 L105.7,683.3 L107.7,683.3 L109.6,683.3 L111.6,683.3 L113.6,683.3 L115.6,683.3 L117.5,683.3 L119.5,683.3 L121.5,683.3 L123.4,683.3 L125.4,683.3 L127.4,683.3 L129.3,683.3 M52.5,687.7 L53.7,687.7 L55.0,687.7 L56.2,687.7 L57.4,687.7 L58.7,687.7 L59.9,687.7 L61.1,687.7 L62.4,687.7 L63.6,687.7 L64.8,687.7 L66.1,687.7 L67.3,687.7 L68.5,687.7 L69.8,687.7 L71.0,687.7 L72.2,687.7 L73.5,687.7 L74.7,687.7 L75.9,687.7 L77.2,687.7 L78.4,687.7 L79.6,687.7 L80.9,687.7 L82.1,687.7 L83.3,687.7 L84.6,687.7 L85.8,687.7 L87.0,687.7 L88.3,687.7 L89.5,687.7 L90.7,687.7 L92.0,687.7 L93.2,687.7 L94.4,687.7 L95.7,687.7 L96.9,687.7 L98.1,687.7 L99.4,687.7 L100.6,687.7 M52.5,689.3 L53.3,689.3 L54.1,689.3 L54.9,689.3 L55.8,689.3 L56.6,689.3 L57.4,689.3 L58.2,689.3 L59.0,689.3 L59.8,689.3 L60.6,689.3 L61.5,689.3 L62.3,689.3 L63.1,689.3 L63.9,689.3 L64.7,689.3 L65.5,689.3 L66.3,689.3 L67.2,689.3 L68.0,689.3 L68.8,689.3 L69.6,689.3 L70.4,689.3 L71.2,689.3 L72.0,689.3 L72.9,689.3 L73.7,689.3 L74.5,689.3 L75.3,689.3 L76.1,689.3 L76.9,689.3 L77.7,689.3 L78.6,689.3 L79.4,689.3 L80.2,689.3 L81.0,689.3 L81.8,689.3 L82.6,689.3 L83.5,689.3 L84.3,689.3" stroke="#000" stroke-width="0.7" fill="none" opacity="0.75"/>
<path d="M242.5,646.5 L247.6,646.5 L252.7,646.5 L257.9,646.5 L263.0,646.5 L268.1,646.5 L273.3,646.5 L278.4,646.5 L283.5,646.5 L288.6,646.5 L293.8,646.5 L298.9,646.5 L304.0,646.5 L309.1,646.5 L314.3,646.5 L319.4,646.5 L324.5,646.5 L329.7,646.5 L334.8,646.5 L339.9,646.5 L345.0,646.5 L350.2,646.4 L355.3,646.4 L360.4,646.4 L365.6,646.4 L370.7,646.3 L375.8,646.2 L380.9,646.1 L386.1,646.0 L391.2,645.8 L396.3,645.6 L401.5,645.4 L406.6,645.0 L411.7,644.6 L416.8,644.2 L422.0,643.6 L427.1,642.9 L432.2,642.2 L437.4,641.3 L442.5,640.4 L447.6,639.4 L452.7,638.4 L457.9,637.2 L463.0,636.1 L468.1,634.8 L473.3,633.6 L478.4,632.3 L483.5,630.9 L488.6,629.6 L493.8,628.2 L498.9,626.8 L504.0,625.3 L509.2,623.9 L514.3,622.4 L519.4,620.9 L524.5,619.4 L529.7,617.8 L534.8,616.3 L539.9,614.7 L545.1,613.1 M223.8,654.7 L228.5,654.7 L233.1,654.7 L237.8,654.7 L242.4,654.7 L247.1,654.7 L251.7,654.7 L256.4,654.7 L261.0,654.7 L265.7,654.7 L270.3,654.7 L275.0,654.7 L279.6,654.7 L284.3,654.7 L288.9,654.7 L293.6,654.7 L298.2,654.7 L302.9,654.7 L307.5,654.7 L312.2,654.7 L316.8,654.7 L321.5,654.7 L326.1,654.7 L330.8,654.6 L335.4,654.6 L340.1,654.6 L344.7,654.5 L349.4,654.4 L354.0,654.3 L358.7,654.2 L363.3,654.0 L368.0,653.8 L372.6,653.6 L377.3,653.2 L381.9,652.8 L386.6,652.4 L391.2,651.8 L395.9,651.2 L400.5,650.5 L405.2,649.8 L409.8,649.0 L414.5,648.1 L419.1,647.2 L423.8,646.3 L428.4,645.3 L433.1,644.2 L437.7,643.2 L442.4,642.1 L447.0,641.0 L451.7,639.9 L456.3,638.7 L461.0,637.5 L465.6,636.3 L470.3,635.1 L474.9,633.9 L479.6,632.7 L484.2,631.4 L488.9,630.1 L493.5,628.8 L498.2,627.5 M205.0,662.1 L209.2,662.1 L213.4,662.1 L217.5,662.1 L221.7,662.1 L225.9,662.1 L230.0,662.1 L234.2,662.1 L238.4,662.1 L242.5,662.1 L246.7,662.1 L250.9,662.1 L255.0,662.1 L259.2,662.1 L263.4,662.1 L267.6,662.1 L271.7,662.1 L275.9,662.1 L280.1,662.1 L284.2,662.1 L288.4,662.1 L292.6,662.1 L296.7,662.1 L300.9,662.1 L305.1,662.1 L309.3,662.0 L313.4,662.0 L317.6,661.9 L321.8,661.8 L325.9,661.7 L330.1,661.6 L334.3,661.4 L338.4,661.2 L342.6,661.0 L346.8,660.7 L350.9,660.3 L355.1,659.9 L359.3,659.4 L363.5,658.9 L367.6,658.3 L371.8,657.6 L376.0,657.0 L380.1,656.2 L384.3,655.5 L388.5,654.7 L392.6,653.9 L396.8,653.0 L401.0,652.2 L405.2,651.3 L409.3,650.4 L413.5,649.5 L417.7,648.5 L421.8,647.6 L426.0,646.6 L430.2,645.7 L434.3,644.7 L438.5,643.7 L442.7,642.7 L446.8,641.6 L451.0,640.6 M186.2,668.7 L189.9,668.7 L193.6,668.7 L197.2,668.7 L200.9,668.7 L204.6,668.7 L208.2,668.7 L211.9,668.7 L215.6,668.7 L219.3,668.7 L222.9,668.7 L226.6,668.7 L230.3,668.7 L234.0,668.7 L237.6,668.7 L241.3,668.7 L245.0,668.7 L248.6,668.7 L252.3,668.7 L256.0,668.7 L259.7,668.7 L263.3,668.7 L267.0,668.7 L270.7,668.7 L274.4,668.6 L278.0,668.6 L281.7,668.6 L285.4,668.5 L289.0,668.5 L292.7,668.4 L296.4,668.3 L300.1,668.2 L303.7,668.0 L307.4,667.8 L311.1,667.6 L314.7,667.3 L318.4,667.0 L322.1,666.6 L325.8,666.2 L329.4,665.7 L333.1,665.3 L336.8,664.7 L340.5,664.2 L344.1,663.6 L347.8,663.0 L351.5,662.4 L355.1,661.7 L358.8,661.1 L362.5,660.4 L366.2,659.7 L369.8,659.0 L373.5,658.3 L377.2,657.5 L380.9,656.8 L384.5,656.0 L388.2,655.3 L391.9,654.5 L395.5,653.7 L399.2,652.9 L402.9,652.1 M167.1,674.5 L170.3,674.5 L173.4,674.5 L176.6,674.5 L179.8,674.5 L182.9,674.5 L186.1,674.5 L189.3,674.5 L192.4,674.5 L195.6,674.5 L198.8,674.5 L201.9,674.5 L205.1,674.5 L208.3,674.5 L211.4,674.5 L214.6,674.5 L217.7,674.5 L220.9,674.5 L224.1,674.5 L227.2,674.5 L230.4,674.5 L233.6,674.5 L236.7,674.5 L239.9,674.5 L243.1,674.4 L246.2,674.4 L249.4,674.4 L252.6,674.4 L255.7,674.3 L258.9,674.3 L262.1,674.2 L265.2,674.1 L268.4,674.0 L271.5,673.8 L274.7,673.7 L277.9,673.5 L281.0,673.2 L284.2,673.0 L287.4,672.7 L290.5,672.3 L293.7,672.0 L296.9,671.6 L300.0,671.2 L303.2,670.7 L306.4,670.3 L309.5,669.8 L312.7,669.4 L315.8,668.9 L319.0,668.4 L322.2,667.9 L325.3,667.3 L328.5,666.8 L331.7,666.3 L334.8,665.7 L338.0,665.2 L341.2,664.6 L344.3,664.1 L347.5,663.5 L350.7,662.9 L353.8,662.3 M148.3,679.3 L150.9,679.3 L153.6,679.3 L156.2,679.3 L158.9,679.3 L161.5,679.3 L164.2,679.3 L166.8,679.3 L169.5,679.3 L172.1,679.3 L174.8,679.3 L177.4,679.3 L180.1,679.3 L182.7,679.3 L185.4,679.3 L188.1,679.3 L190.7,679.3 L193.4,679.3 L196.0,679.3 L198.7,679.3 L201.3,679.3 L204.0,679.3 L206.6,679.3 L209.3,679.3 L211.9,679.3 L214.6,679.3 L217.2,679.3 L219.9,679.2 L222.5,679.2 L225.2,679.2 L227.8,679.1 L230.5,679.1 L233.1,679.0 L235.8,678.9 L238.4,678.8 L241.1,678.6 L243.8,678.4 L246.4,678.3 L249.1,678.0 L251.7,677.8 L254.4,677.6 L257.0,677.3 L259.7,677.0 L262.3,676.7 L265.0,676.4 L267.6,676.1 L270.3,675.7 L272.9,675.4 L275.6,675.1 L278.2,674.7 L280.9,674.3 L283.5,674.0 L286.2,673.6 L288.8,673.2 L291.5,672.8 L294.1,672.4 L296.8,672.0 L299.5,671.6 L302.1,671.2 L304.8,670.8 M129.3,683.3 L131.5,683.3 L133.6,683.3 L135.8,683.3 L137.9,683.3 L140.0,683.3 L142.2,683.3 L144.3,683.3 L146.4,683.3 L148.6,683.3 L150.7,683.3 L152.8,683.3 L155.0,683.3 L157.1,683.3 L159.3,683.3 L161.4,683.3 L163.5,683.3 L165.7,683.3 L167.8,683.3 L169.9,683.3 L172.1,683.3 L174.2,683.3 L176.3,683.3 L178.5,683.3 L180.6,683.3 L182.7,683.3 L184.9,683.3 L187.0,683.2 L189.2,683.2 L191.3,683.2 L193.4,683.2 L195.6,683.1 L197.7,683.1 L199.8,683.0 L202.0,682.9 L204.1,682.8 L206.2,682.7 L208.4,682.6 L210.5,682.5 L212.7,682.3 L214.8,682.2 L216.9,682.0 L219.1,681.8 L221.2,681.6 L223.3,681.4 L225.5,681.2 L227.6,681.0 L229.7,680.8 L231.9,680.6 L234.0,680.3 L236.2,680.1 L238.3,679.9 L240.4,679.6 L242.6,679.4 L244.7,679.1 L246.8,678.9 L249.0,678.6 L251.1,678.4 L253.2,678.1 L255.4,677.8 M100.6,687.7 L101.9,687.7 L103.3,687.7 L104.6,687.7 L106.0,687.7 L107.3,687.7 L108.6,687.7 L110.0,687.7 L111.3,687.7 L112.7,687.7 L114.0,687.7 L115.4,687.7 L116.7,687.7 L118.1,687.7 L119.4,687.7 L120.7,687.7 L122.1,687.7 L123.4,687.7 L124.8,687.7 L126.1,687.7 L127.5,687.7 L128.8,687.7 L130.2,687.7 L131.5,687.7 L132.8,687.7 L134.2,687.7 L135.5,687.7 L136.9,687.7 L138.2,687.7 L139.6,687.6 L140.9,687.6 L142.3,687.6 L143.6,687.6 L144.9,687.6 L146.3,687.5 L147.6,687.5 L149.0,687.5 L150.3,687.4 L151.7,687.4 L153.0,687.3 L154.3,687.2 L155.7,687.2 L157.0,687.1 L158.4,687.0 L159.7,687.0 L161.1,686.9 L162.4,686.8 L163.8,686.7 L165.1,686.6 L166.4,686.5 L167.8,686.4 L169.1,686.3 L170.5,686.2 L171.8,686.1 L173.2,686.0 L174.5,685.9 L175.9,685.8 L177.2,685.7 L178.5,685.6 L179.9,685.5 M84.3,689.3 L85.2,689.3 L86.1,689.3 L87.0,689.3 L87.9,689.3 L88.8,689.3 L89.7,689.3 L90.6,689.3 L91.5,689.3 L92.4,689.3 L93.3,689.3 L94.2,689.3 L95.1,689.3 L96.0,689.3 L96.9,689.3 L97.8,689.3 L98.7,689.3 L99.6,689.3 L100.5,689.3 L101.4,689.3 L102.3,689.3 L103.2,689.3 L104.1,689.3 L105.0,689.3 L105.9,689.3 L106.8,689.3 L107.7,689.3 L108.6,689.3 L109.5,689.3 L110.4,689.3 L111.3,689.2 L112.2,689.2 L113.1,689.2 L114.0,689.2 L114.9,689.2 L115.8,689.2 L116.7,689.2 L117.6,689.2 L118.5,689.1 L119.4,689.1 L120.3,689.1 L121.2,689.1 L122.1,689.0 L123.0,689.0 L123.9,689.0 L124.8,688.9 L125.7,688.9 L126.6,688.8 L127.5,688.8 L128.4,688.8 L129.3,688.7 L130.2,688.7 L131.1,688.6 L132.0,688.6 L132.9,688.6 L133.8,688.5 L134.7,688.5 L135.6,688.4 L136.5,688.4 L137.4,688.3" stroke="#0a0a0a" stroke-width="1.6" fill="none"/>
<path d="M52.5,0.5H593.5" stroke="#8a8a8a" fill="none"/>
<path d="M52.5,0V437.5 M593.5,0V437.5" stroke="#3a3a3a" fill="none"/>
<path d="M48,437.5H598.5" stroke="#000" fill="none"/>
<path d="M52.5,458.5H593.5 M52.5,458V690.5 M593.5,458V690.5" stroke="#3a3a3a" fill="none"/>
<path d="M48,690.5H598.0" stroke="#929292" fill="none"/>
<g font-size="11.3" fill="#0c0c14" stroke="#0c0c14" stroke-width="0.2"><text x="42.7" y="441.4" text-anchor="end">0</text>
<text x="42.7" y="414.4" text-anchor="end">10</text>
<text x="42.7" y="386.4" text-anchor="end">20</text>
<text x="42.7" y="359.4" text-anchor="end">30</text>
<text x="42.7" y="332.4" text-anchor="end">40</text>
<text x="42.7" y="304.4" text-anchor="end">50</text>
<text x="42.7" y="277.4" text-anchor="end">60</text>
<text x="42.7" y="250.4" text-anchor="end">70</text>
<text x="42.7" y="222.4" text-anchor="end">80</text>
<text x="42.7" y="195.4" text-anchor="end">90</text>
<text x="42.7" y="168.4" text-anchor="end">100</text>
<text x="42.7" y="140.4" text-anchor="end">110</text>
<text x="42.7" y="113.5" text-anchor="end">120</text>
<text x="42.7" y="86.5" text-anchor="end">130</text>
<text x="42.7" y="58.5" text-anchor="end">140</text>
<text x="601.6" y="441.4">0</text>
<text x="601.6" y="414.4">10</text>
<text x="601.6" y="386.4">20</text>
<text x="601.6" y="359.4">30</text>
<text x="601.6" y="332.4">40</text>
<text x="601.6" y="304.4">50</text>
<text x="601.6" y="277.4">60</text>
<text x="601.6" y="250.4">70</text>
<text x="601.6" y="222.4">80</text>
<text x="601.6" y="195.4">90</text>
<text x="601.6" y="168.4">100</text>
<text x="52.5" y="452.8" text-anchor="middle">0</text>
<text x="84.0" y="452.8" text-anchor="middle">1</text>
<text x="115.4" y="452.8" text-anchor="middle">2</text>
<text x="146.9" y="452.8" text-anchor="middle">3</text>
<text x="178.3" y="452.8" text-anchor="middle">4</text>
<text x="209.8" y="452.8" text-anchor="middle">5</text>
<text x="241.2" y="452.8" text-anchor="middle">6</text>
<text x="272.7" y="452.8" text-anchor="middle">7</text>
<text x="304.1" y="452.8" text-anchor="middle">8</text>
<text x="335.6" y="452.8" text-anchor="middle">9</text>
<text x="367.0" y="452.8" text-anchor="middle">10</text>
<text x="398.5" y="452.8" text-anchor="middle">11</text>
<text x="429.9" y="452.8" text-anchor="middle">12</text>
<text x="461.4" y="452.8" text-anchor="middle">13</text>
<text x="492.8" y="452.8" text-anchor="middle">14</text>
<text x="524.3" y="452.8" text-anchor="middle">15</text>
<text x="549.3" y="452.8" textLength="34.6">Q [м³/ч]</text>
<text x="42.7" y="694.5" text-anchor="end">0</text>
<text x="601.6" y="694.5">0</text>
<text x="42.7" y="661.5" text-anchor="end">1</text>
<text x="601.6" y="661.5">2</text>
<text x="42.7" y="628.5" text-anchor="end">2</text>
<text x="601.6" y="628.5">4</text>
<text x="42.7" y="595.5" text-anchor="end">3</text>
<text x="601.6" y="595.5">6</text>
<text x="42.7" y="561.5" text-anchor="end">4</text>
<text x="601.6" y="561.5">8</text>
<text x="42.7" y="528.5" text-anchor="end">5</text>
<text x="601.6" y="528.5">10</text>
<text x="25.8" y="8.8" text-anchor="middle">H</text><text x="26" y="22.9" text-anchor="middle">[м]</text>
<text x="620.3" y="8.8" text-anchor="middle">eta</text><text x="620.5" y="22.9" text-anchor="middle">[%]</text>
<text x="27" y="467" text-anchor="middle">P</text><text x="27" y="481" text-anchor="middle">[кВт]</text>
<text x="625" y="467" text-anchor="middle">NPSH</text><text x="625" y="481" text-anchor="middle">[м]</text>
<text x="244" y="74" font-size="11">100 %</text>
<text x="228" y="141" font-size="11">90 %</text>
<text x="212" y="202" font-size="11">80 %</text>
<text x="196" y="256" font-size="11">70 %</text>
<text x="177" y="303" font-size="11">60 %</text>
<text x="158.8" y="342.6" font-size="11">50 %</text>
<text x="138.7" y="376" font-size="11">40 %</text>
<text x="107" y="411" font-size="11">25 %</text>
<text x="91" y="424" font-size="11">17 %</text>
<text x="378.4" y="507" textLength="155" fill="#1d4f86" stroke="#1d4f86">P1 (двиг.+преобр-ль частоты)</text>
<text x="528.3" y="536" fill="#1d4f86" stroke="#1d4f86">P2</text></g>
<rect x="485.5" y="0.5" width="108.0" height="18" fill="#fff" stroke="#333"/>
<text x="489" y="14" font-size="11" fill="#0c0c14" stroke="#0c0c14" stroke-width="0.2">CRE 10-9, 3*500 V</text>
</svg>
</body></html>
